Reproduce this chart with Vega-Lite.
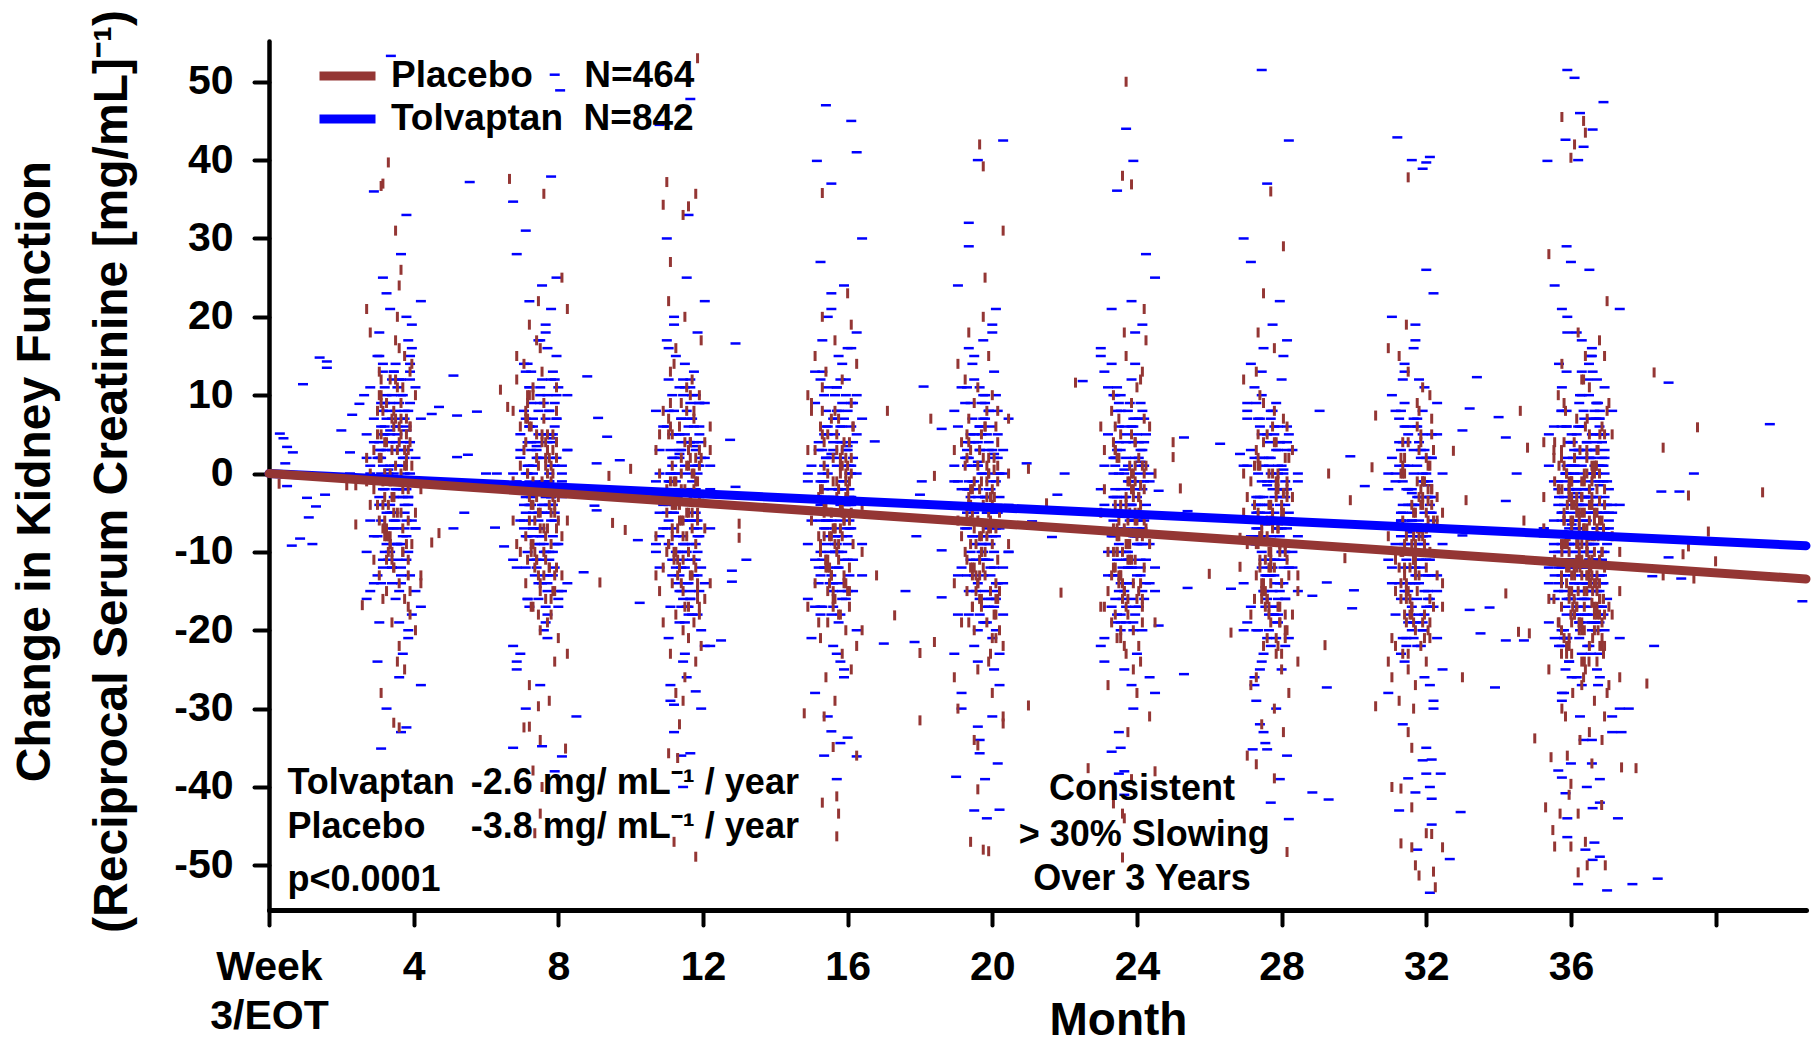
{
  "$schema": "https://vega.github.io/schema/vega-lite/v6.json",
  "width": 1537,
  "height": 869,
  "autosize": {"type": "none"},
  "padding": {"left": 269, "top": 41, "right": 12, "bottom": 137},
  "background": "white",
  "config": {
    "view": {"stroke": null},
    "font": "Liberation Sans",
    "axis": {
      "labelFont": "Liberation Sans", "labelFontWeight": "bold", "labelColor": "#000",
      "titleFont": "Liberation Sans", "titleFontWeight": "bold", "titleColor": "#000",
      "domainColor": "#000", "tickColor": "#000", "grid": false,
      "domainCap": "round", "tickCap": "round"
    }
  },
  "datasets": {
    "tolvaptan": [
      {"m":3.0,"v":2},{"m":3.75,"v":-5},{"m":3.35,"v":9},{"m":3.95,"v":-1},{"m":3.15,"v":14},{"m":3.55,"v":-9},{"m":2.9,"v":4},{"m":3.65,"v":-14},{"m":3.45,"v":0},{"m":3.25,"v":7},{"m":3.85,"v":-3},{"m":3.05,"v":18},{"m":4.05,"v":-7},{"m":2.8,"v":11},{"m":3.6,"v":-19},{"m":3.4,"v":3},{"m":3.8,"v":-11},{"m":3.2,"v":6},{"m":3.5,"v":-2},{"m":4.2,"v":22},{"m":2.7,"v":-16},{"m":3.7,"v":1},{"m":3.1,"v":-6},{"m":3.9,"v":13},
      {"m":3.0,"v":-24},{"m":3.75,"v":8},{"m":3.35,"v":-4},{"m":3.95,"v":16},{"m":3.15,"v":-12},{"m":3.55,"v":5},{"m":2.9,"v":-8},{"m":3.65,"v":28},{"m":3.45,"v":-1},{"m":3.25,"v":10},{"m":3.85,"v":-21},{"m":3.05,"v":3},{"m":4.05,"v":-15},{"m":2.8,"v":0},{"m":3.6,"v":12},{"m":3.4,"v":-5},{"m":3.8,"v":20},{"m":3.2,"v":-10},{"m":3.5,"v":6},{"m":4.2,"v":-27},{"m":2.7,"v":2},{"m":3.7,"v":-3},{"m":3.1,"v":9},{"m":3.9,"v":-13},
      {"m":3.0,"v":15},{"m":3.75,"v":-7},{"m":3.35,"v":4},{"m":3.95,"v":-18},{"m":3.15,"v":25},{"m":3.55,"v":-2},{"m":2.9,"v":7},{"m":3.65,"v":-9},{"m":3.45,"v":1},{"m":3.25,"v":-30},{"m":3.85,"v":17},{"m":3.05,"v":-4},{"m":4.05,"v":11},{"m":2.8,"v":-6},{"m":3.6,"v":3},{"m":3.4,"v":-12},{"m":3.8,"v":33},{"m":3.2,"v":-1},{"m":3.5,"v":8},{"m":4.2,"v":-17},{"m":2.7,"v":5},{"m":3.7,"v":-23},{"m":3.1,"v":0},{"m":3.9,"v":14},
      {"m":3.0,"v":-8},{"m":3.75,"v":2},{"m":3.35,"v":-5},{"m":3.95,"v":19},{"m":3.15,"v":-11},{"m":3.55,"v":6},{"m":2.9,"v":-14},{"m":3.65,"v":10},{"m":3.45,"v":-3},{"m":3.25,"v":23},{"m":3.85,"v":-20},{"m":3.05,"v":4},{"m":4.05,"v":-7},{"m":2.8,"v":1},{"m":3.6,"v":-26},{"m":3.4,"v":12},{"m":3.8,"v":-2},{"m":3.2,"v":9},{"m":3.5,"v":-16},{"m":4.2,"v":7},{"m":2.7,"v":-10},{"m":3.7,"v":3},{"m":3.1,"v":-4},{"m":3.9,"v":15},
      {"m":3.0,"v":-13},{"m":3.75,"v":0},{"m":3.35,"v":21},{"m":3.95,"v":-6},{"m":3.15,"v":5},{"m":3.55,"v":-9},{"m":2.9,"v":36},{"m":3.65,"v":-33},{"m":3.45,"v":13},{"m":3.25,"v":-1},{"m":3.85,"v":8},{"m":3.05,"v":-19},{"m":4.05,"v":2},{"m":2.8,"v":-15},
      {"m":3.15,"v":1},{"m":3.6,"v":-3},{"m":3.35,"v":5},{"m":3.8,"v":-6},{"m":3.25,"v":8},{"m":3.5,"v":-9},{"m":3.7,"v":2},{"m":3.05,"v":-1},{"m":3.55,"v":11},{"m":3.4,"v":-12},{"m":3.75,"v":4},{"m":3.2,"v":-4},{"m":3.65,"v":7},{"m":3.3,"v":-7},{"m":3.9,"v":0},{"m":3.45,"v":13},{"m":3.1,"v":-14},{"m":3.85,"v":3},
      {"m":3.15,"v":-2},{"m":3.6,"v":9},{"m":3.35,"v":-10},{"m":3.8,"v":6},{"m":3.25,"v":-5},{"m":3.5,"v":14},{"m":3.7,"v":-8},{"m":3.05,"v":2},{"m":3.55,"v":-11},{"m":3.4,"v":10},{"m":3.75,"v":-1},{"m":3.2,"v":5},{"m":3.65,"v":-13},{"m":3.3,"v":0},{"m":3.9,"v":12},{"m":3.45,"v":-6},{"m":3.1,"v":3},{"m":3.85,"v":-3},
      {"m":3.15,"v":8},{"m":3.6,"v":-15},{"m":3.35,"v":1},{"m":3.8,"v":5.5},{"m":3.25,"v":-9},{"m":3.5,"v":4},{"m":3.7,"v":-2},{"m":3.05,"v":15},{"m":3.55,"v":-7},{"m":3.4,"v":7},{"m":3.75,"v":-4},{"m":3.2,"v":11},{"m":3.65,"v":-12},{"m":3.3,"v":0.5},{"m":3.9,"v":9},{"m":3.45,"v":-5},{"m":3.1,"v":2},{"m":3.85,"v":-10},
      {"m":3.15,"v":13},{"m":3.6,"v":-1},{"m":3.35,"v":5.5},{"m":3.8,"v":-8},{"m":3.25,"v":3},{"m":3.5,"v":-6},{"m":3.7,"v":10},{"m":3.05,"v":-3},{"m":3.55,"v":1},{"m":3.4,"v":-14},{"m":3.75,"v":7},{"m":3.2,"v":-2},{"m":3.65,"v":12},{"m":3.3,"v":-11},{"m":3.9,"v":4},{"m":3.45,"v":-7},{"m":3.1,"v":6},{"m":3.85,"v":-4},

      {"m":7.05,"v":14},{"m":7.8,"v":-3},{"m":7.4,"v":4},{"m":8.0,"v":-15},{"m":7.2,"v":22},{"m":7.6,"v":-10},{"m":6.95,"v":2},{"m":7.7,"v":-18},{"m":7.5,"v":10},{"m":7.3,"v":-7},{"m":7.9,"v":6},{"m":7.1,"v":-30},{"m":8.1,"v":-1},{"m":6.85,"v":-12},{"m":7.65,"v":19},{"m":7.45,"v":-5},{"m":7.85,"v":13},{"m":7.25,"v":-2},{"m":7.55,"v":-14},{"m":8.25,"v":3},{"m":6.75,"v":-22},{"m":7.75,"v":8},{"m":7.15,"v":-8},{"m":7.95,"v":25},
      {"m":7.05,"v":-4},{"m":7.8,"v":1},{"m":7.4,"v":-11},{"m":8.0,"v":11},{"m":7.2,"v":-17},{"m":7.6,"v":5},{"m":6.95,"v":-6},{"m":7.7,"v":16},{"m":7.5,"v":-27},{"m":7.3,"v":0},{"m":7.9,"v":-9},{"m":7.1,"v":7},{"m":8.1,"v":-3},{"m":6.85,"v":28},{"m":7.65,"v":-19},{"m":7.45,"v":2},{"m":7.85,"v":-13},{"m":7.25,"v":4},{"m":7.55,"v":-5},{"m":8.25,"v":10},{"m":6.75,"v":-35},{"m":7.75,"v":-1},{"m":7.15,"v":-10},{"m":7.95,"v":15},
      {"m":7.05,"v":-7},{"m":7.8,"v":21},{"m":7.4,"v":-2},{"m":8.0,"v":-16},{"m":7.2,"v":6},{"m":7.6,"v":-4},{"m":6.95,"v":3},{"m":7.7,"v":-21},{"m":7.5,"v":9},{"m":7.3,"v":-8},{"m":7.9,"v":12},{"m":7.1,"v":-12},{"m":8.1,"v":1},{"m":6.85,"v":-25},{"m":7.65,"v":18},{"m":7.45,"v":-6},{"m":7.85,"v":5},{"m":7.25,"v":-3},{"m":7.55,"v":24},{"m":8.25,"v":-14},{"m":6.75,"v":0},{"m":7.75,"v":-11},{"m":7.15,"v":14},{"m":7.95,"v":-9},
      {"m":7.05,"v":8},{"m":7.8,"v":-5},{"m":7.4,"v":2},{"m":8.0,"v":-17},{"m":7.2,"v":11},{"m":7.6,"v":-2},{"m":6.95,"v":-23},{"m":7.7,"v":4},{"m":7.5,"v":-7},{"m":7.3,"v":7},{"m":7.9,"v":-38},{"m":7.1,"v":31},{"m":8.1,"v":-15},{"m":6.85,"v":-1},{"m":7.65,"v":-10},{"m":7.45,"v":17},{"m":7.85,"v":-4},{"m":7.25,"v":13},{"m":7.55,"v":-4},{"m":8.25,"v":3},{"m":6.75,"v":-11},{"m":7.75,"v":-1},{"m":7.15,"v":-16},{"m":7.95,"v":7},
      {"m":7.05,"v":-6},{"m":7.8,"v":12},{"m":7.4,"v":-2},{"m":8.0,"v":-9},{"m":7.2,"v":1},{"m":7.6,"v":-20},{"m":6.95,"v":5},{"m":7.7,"v":-13},{"m":7.5,"v":17},{"m":7.3,"v":-5},{"m":7.9,"v":9},{"m":7.1,"v":-8},{"m":8.1,"v":0},{"m":6.85,"v":-24},
      {"m":7.2,"v":-1},{"m":7.65,"v":-5},{"m":7.4,"v":3},{"m":7.85,"v":-8},{"m":7.3,"v":6},{"m":7.55,"v":-11},{"m":7.75,"v":0},{"m":7.1,"v":-3},{"m":7.6,"v":9},{"m":7.45,"v":-14},{"m":7.8,"v":2},{"m":7.25,"v":-6},{"m":7.7,"v":5},{"m":7.35,"v":-9},{"m":7.95,"v":-2},{"m":7.5,"v":11},{"m":7.15,"v":-16},{"m":7.9,"v":1},
      {"m":7.2,"v":-4},{"m":7.65,"v":7},{"m":7.4,"v":-12},{"m":7.85,"v":4},{"m":7.3,"v":-7},{"m":7.55,"v":12},{"m":7.75,"v":-10},{"m":7.1,"v":0},{"m":7.6,"v":-13},{"m":7.45,"v":8},{"m":7.8,"v":-3},{"m":7.25,"v":3},{"m":7.7,"v":-15},{"m":7.35,"v":-2},{"m":7.95,"v":10},{"m":7.5,"v":-8},{"m":7.15,"v":1},{"m":7.9,"v":-5},
      {"m":7.2,"v":6},{"m":7.65,"v":-17},{"m":7.4,"v":-1},{"m":7.85,"v":4.5},{"m":7.3,"v":-11},{"m":7.55,"v":2},{"m":7.75,"v":-4},{"m":7.1,"v":13},{"m":7.6,"v":-9},{"m":7.45,"v":5},{"m":7.8,"v":-6},{"m":7.25,"v":9},{"m":7.7,"v":-14},{"m":7.35,"v":-2.5},{"m":7.95,"v":7},{"m":7.5,"v":-7},{"m":7.15,"v":0},{"m":7.9,"v":-12},
      {"m":7.2,"v":11},{"m":7.65,"v":-3},{"m":7.4,"v":3.5},{"m":7.85,"v":-10},{"m":7.3,"v":1},{"m":7.55,"v":-8},{"m":7.75,"v":8},{"m":7.1,"v":-5},{"m":7.6,"v":-1},{"m":7.45,"v":-16},{"m":7.8,"v":5},{"m":7.25,"v":-4},{"m":7.7,"v":10},{"m":7.35,"v":-13},{"m":7.95,"v":2},{"m":7.5,"v":-9},{"m":7.15,"v":4},{"m":7.9,"v":-6},

      {"m":11.0,"v":17},{"m":11.75,"v":-13},{"m":11.35,"v":3},{"m":11.95,"v":-30},{"m":11.15,"v":-1},{"m":11.55,"v":-6},{"m":10.9,"v":6},{"m":11.65,"v":-16},{"m":11.45,"v":12},{"m":11.25,"v":-10},{"m":11.85,"v":1},{"m":11.05,"v":-21},{"m":12.05,"v":22},{"m":10.8,"v":-5},{"m":11.6,"v":4},{"m":11.4,"v":-12},{"m":11.8,"v":-2},{"m":11.2,"v":-33},{"m":11.5,"v":14},{"m":12.2,"v":-7},{"m":10.7,"v":8},{"m":11.7,"v":-9},{"m":11.1,"v":0},{"m":11.9,"v":-15},
      {"m":11.0,"v":30},{"m":11.75,"v":-4},{"m":11.35,"v":5},{"m":11.95,"v":-20},{"m":11.15,"v":2},{"m":11.55,"v":-26},{"m":10.9,"v":-3},{"m":11.65,"v":11},{"m":11.45,"v":-11},{"m":11.25,"v":-1},{"m":11.85,"v":-8},{"m":11.05,"v":16},{"m":12.05,"v":-14},{"m":10.8,"v":3},{"m":11.6,"v":-17},{"m":11.4,"v":7},{"m":11.8,"v":-6},{"m":11.2,"v":20},{"m":11.5,"v":-23},{"m":12.2,"v":1},{"m":10.7,"v":-10},{"m":11.7,"v":-2},{"m":11.1,"v":-29},{"m":11.9,"v":9},
      {"m":11.0,"v":-5},{"m":11.75,"v":6},{"m":11.35,"v":-19},{"m":11.95,"v":4},{"m":11.15,"v":-13},{"m":11.55,"v":0},{"m":10.9,"v":-7},{"m":11.65,"v":12},{"m":11.45,"v":-16},{"m":11.25,"v":-3},{"m":11.85,"v":18},{"m":11.05,"v":-9},{"m":12.05,"v":2},{"m":10.8,"v":-12},{"m":11.6,"v":33},{"m":11.4,"v":-36},{"m":11.8,"v":10},{"m":11.2,"v":-4},{"m":11.5,"v":5},{"m":12.2,"v":-22},{"m":10.7,"v":-1},{"m":11.7,"v":-18},{"m":11.1,"v":-1},{"m":11.9,"v":-8},
      {"m":11.0,"v":6},{"m":11.75,"v":-4},{"m":11.35,"v":11},{"m":11.95,"v":-12},{"m":11.15,"v":1},{"m":11.55,"v":-17},{"m":10.9,"v":-3},{"m":11.65,"v":4},{"m":11.45,"v":-6},{"m":11.25,"v":15},{"m":11.85,"v":-10},{"m":11.05,"v":8},{"m":12.05,"v":-22},{"m":10.8,"v":0},{"m":11.6,"v":-14},{"m":11.4,"v":3},{"m":11.8,"v":-5},{"m":11.2,"v":19},{"m":11.5,"v":-19},{"m":12.2,"v":-2},{"m":10.7,"v":-9},{"m":11.7,"v":10},{"m":11.1,"v":-27},{"m":11.9,"v":5},
      {"m":11.0,"v":-7},{"m":11.75,"v":13},{"m":11.35,"v":-15},{"m":11.95,"v":2},{"m":11.15,"v":-11},{"m":11.55,"v":25},{"m":10.9,"v":-4},{"m":11.65,"v":7},{"m":11.45,"v":-24},{"m":11.25,"v":0},{"m":11.85,"v":-18},{"m":11.05,"v":-3},{"m":12.05,"v":9},{"m":10.8,"v":-8},
      {"m":11.15,"v":-2},{"m":11.6,"v":-6},{"m":11.35,"v":2},{"m":11.8,"v":-9},{"m":11.25,"v":5},{"m":11.5,"v":-12},{"m":11.7,"v":-1},{"m":11.05,"v":-4},{"m":11.55,"v":8},{"m":11.4,"v":-15},{"m":11.75,"v":1},{"m":11.2,"v":-7},{"m":11.65,"v":4},{"m":11.3,"v":-10},{"m":11.9,"v":-3},{"m":11.45,"v":10},{"m":11.1,"v":-17},{"m":11.85,"v":0},
      {"m":11.15,"v":-5},{"m":11.6,"v":6},{"m":11.35,"v":-13},{"m":11.8,"v":3},{"m":11.25,"v":-8},{"m":11.5,"v":11},{"m":11.7,"v":-11},{"m":11.05,"v":-1},{"m":11.55,"v":-14},{"m":11.4,"v":7},{"m":11.75,"v":-4},{"m":11.2,"v":2},{"m":11.65,"v":-16},{"m":11.3,"v":-3},{"m":11.9,"v":9},{"m":11.45,"v":-9},{"m":11.1,"v":0},{"m":11.85,"v":-6},
      {"m":11.15,"v":5},{"m":11.6,"v":-18},{"m":11.35,"v":-2},{"m":11.8,"v":3.5},{"m":11.25,"v":-12},{"m":11.5,"v":1},{"m":11.7,"v":-5},{"m":11.05,"v":12},{"m":11.55,"v":-10},{"m":11.4,"v":4},{"m":11.75,"v":-7},{"m":11.2,"v":8},{"m":11.65,"v":-15},{"m":11.3,"v":-3.5},{"m":11.9,"v":6},{"m":11.45,"v":-8},{"m":11.1,"v":-1},{"m":11.85,"v":-13},
      {"m":11.15,"v":10},{"m":11.6,"v":-4},{"m":11.35,"v":2.5},{"m":11.8,"v":-11},{"m":11.25,"v":0},{"m":11.5,"v":-9},{"m":11.7,"v":7},{"m":11.05,"v":-6},{"m":11.55,"v":-2},{"m":11.4,"v":-17},{"m":11.75,"v":4},{"m":11.2,"v":-5},{"m":11.65,"v":9},{"m":11.3,"v":-14},{"m":11.9,"v":1},{"m":11.45,"v":-10},{"m":11.1,"v":3},{"m":11.85,"v":-7},

      {"m":15.2,"v":-14},{"m":15.95,"v":3},{"m":15.55,"v":-6},{"m":16.15,"v":9},{"m":15.35,"v":-36},{"m":15.75,"v":-2},{"m":15.1,"v":-11},{"m":15.85,"v":14},{"m":15.65,"v":-8},{"m":15.45,"v":20},{"m":16.05,"v":-3},{"m":15.25,"v":-17},{"m":16.25,"v":5},{"m":15.0,"v":-5},{"m":15.8,"v":2},{"m":15.6,"v":-22},{"m":16.0,"v":8},{"m":15.4,"v":-9},{"m":15.7,"v":11},{"m":16.4,"v":-13},{"m":14.9,"v":0},{"m":15.9,"v":-26},{"m":15.3,"v":17},{"m":16.1,"v":-7},
      {"m":15.2,"v":4},{"m":15.95,"v":-4},{"m":15.55,"v":23},{"m":16.15,"v":-15},{"m":15.35,"v":-1},{"m":15.75,"v":-12},{"m":15.1,"v":13},{"m":15.85,"v":-10},{"m":15.65,"v":7},{"m":15.45,"v":-6},{"m":16.05,"v":1},{"m":15.25,"v":-18},{"m":16.25,"v":10},{"m":15.0,"v":-3},{"m":15.8,"v":-24},{"m":15.6,"v":3},{"m":16.0,"v":-8},{"m":15.4,"v":6},{"m":15.7,"v":-39},{"m":16.4,"v":30},{"m":14.9,"v":-16},{"m":15.9,"v":-2},{"m":15.3,"v":-11},{"m":16.1,"v":16},
      {"m":15.2,"v":-5},{"m":15.95,"v":12},{"m":15.55,"v":-5},{"m":16.15,"v":2},{"m":15.35,"v":-12},{"m":15.75,"v":-2},{"m":15.1,"v":-17},{"m":15.85,"v":6},{"m":15.65,"v":-7},{"m":15.45,"v":11},{"m":16.05,"v":-3},{"m":15.25,"v":-10},{"m":16.25,"v":0},{"m":15.0,"v":-21},{"m":15.8,"v":4},{"m":15.6,"v":-14},{"m":16.0,"v":16},{"m":15.4,"v":-6},{"m":15.7,"v":8},{"m":16.4,"v":-9},{"m":14.9,"v":-1},{"m":15.9,"v":-25},{"m":15.3,"v":13},{"m":16.1,"v":-4},
      {"m":15.2,"v":3},{"m":15.95,"v":-16},{"m":15.55,"v":21},{"m":16.15,"v":-11},{"m":15.35,"v":1},{"m":15.75,"v":-19},{"m":15.1,"v":9},{"m":15.85,"v":-8},{"m":15.65,"v":5},{"m":15.45,"v":-31},{"m":16.05,"v":-2},{"m":15.25,"v":-13},{"m":16.25,"v":18},{"m":15.0,"v":-6},{"m":15.8,"v":12},{"m":15.6,"v":-3},{"m":16.0,"v":-15},{"m":15.4,"v":2},{"m":15.7,"v":-23},{"m":16.4,"v":7},{"m":14.9,"v":-9},{"m":15.9,"v":24},{"m":15.3,"v":-5},{"m":16.1,"v":0},
      {"m":15.2,"v":-12},{"m":15.95,"v":10},{"m":15.55,"v":-18},{"m":16.15,"v":4},{"m":15.35,"v":-7},{"m":15.75,"v":15},{"m":15.1,"v":-28},{"m":15.85,"v":-1},{"m":15.65,"v":-10},{"m":15.45,"v":6},{"m":16.05,"v":-4},{"m":15.25,"v":27},{"m":16.25,"v":-20},{"m":15.0,"v":1},
      {"m":15.35,"v":10},{"m":15.8,"v":-4},{"m":15.55,"v":2},{"m":16.0,"v":-11},{"m":15.45,"v":0},{"m":15.7,"v":-9},{"m":15.9,"v":7},{"m":15.25,"v":-6},{"m":15.75,"v":-2},{"m":15.6,"v":-17},{"m":15.95,"v":4},{"m":15.4,"v":-5},{"m":15.85,"v":9},{"m":15.5,"v":-14},{"m":16.1,"v":1},{"m":15.65,"v":-10},{"m":15.3,"v":3},{"m":16.05,"v":-7},
      {"m":15.35,"v":5},{"m":15.8,"v":-18},{"m":15.55,"v":-2},{"m":16.0,"v":3},{"m":15.45,"v":-12},{"m":15.7,"v":1},{"m":15.9,"v":-5},{"m":15.25,"v":12},{"m":15.75,"v":-10},{"m":15.6,"v":4},{"m":15.95,"v":-7},{"m":15.4,"v":8},{"m":15.85,"v":-15},{"m":15.5,"v":-3},{"m":16.1,"v":6},{"m":15.65,"v":-8},{"m":15.3,"v":-1},{"m":16.05,"v":-13},
      {"m":15.35,"v":-5},{"m":15.8,"v":6},{"m":15.55,"v":-13},{"m":16.0,"v":3.5},{"m":15.45,"v":-8},{"m":15.7,"v":11},{"m":15.9,"v":-11},{"m":15.25,"v":-1},{"m":15.75,"v":-14},{"m":15.6,"v":7},{"m":15.95,"v":-4},{"m":15.4,"v":2},{"m":15.85,"v":-16},{"m":15.5,"v":-3.5},{"m":16.1,"v":9},{"m":15.65,"v":-9},{"m":15.3,"v":0},{"m":16.05,"v":-6},
      {"m":15.35,"v":-2},{"m":15.8,"v":-6},{"m":15.55,"v":2.5},{"m":16.0,"v":-9},{"m":15.45,"v":5},{"m":15.7,"v":-12},{"m":15.9,"v":-1},{"m":15.25,"v":-4},{"m":15.75,"v":8},{"m":15.6,"v":-15},{"m":15.95,"v":1},{"m":15.4,"v":-7},{"m":15.85,"v":4},{"m":15.5,"v":-10},{"m":16.1,"v":-3},{"m":15.65,"v":10},{"m":15.3,"v":-17},{"m":16.05,"v":0},

      {"m":19.25,"v":-7},{"m":20.0,"v":19},{"m":19.6,"v":-24},{"m":20.2,"v":0},{"m":19.4,"v":-11},{"m":19.8,"v":-3},{"m":19.15,"v":-30},{"m":19.9,"v":8},{"m":19.7,"v":-6},{"m":19.5,"v":5},{"m":20.1,"v":-20},{"m":19.3,"v":3},{"m":20.3,"v":-14},{"m":19.05,"v":-1},{"m":19.85,"v":-8},{"m":19.65,"v":11},{"m":20.05,"v":-17},{"m":19.45,"v":-4},{"m":19.75,"v":17},{"m":20.45,"v":-10},{"m":18.95,"v":1},{"m":19.95,"v":-13},{"m":19.35,"v":32},{"m":20.15,"v":-37},
      {"m":19.25,"v":9},{"m":20.0,"v":-5},{"m":19.6,"v":4},{"m":20.2,"v":-23},{"m":19.4,"v":-2},{"m":19.8,"v":-19},{"m":19.15,"v":-2},{"m":19.9,"v":-9},{"m":19.7,"v":5},{"m":19.5,"v":-5},{"m":20.1,"v":10},{"m":19.3,"v":-13},{"m":20.3,"v":0},{"m":19.05,"v":-18},{"m":19.85,"v":-4},{"m":19.65,"v":3},{"m":20.05,"v":-7},{"m":19.45,"v":14},{"m":19.75,"v":-11},{"m":20.45,"v":7},{"m":18.95,"v":-23},{"m":19.95,"v":-1},{"m":19.35,"v":-15},{"m":20.15,"v":2},
      {"m":19.25,"v":-6},{"m":20.0,"v":18},{"m":19.6,"v":-20},{"m":20.2,"v":-3},{"m":19.4,"v":-10},{"m":19.8,"v":9},{"m":19.15,"v":-28},{"m":19.9,"v":4},{"m":19.7,"v":-8},{"m":19.5,"v":12},{"m":20.1,"v":-16},{"m":19.3,"v":1},{"m":20.3,"v":-12},{"m":19.05,"v":24},{"m":19.85,"v":-5},{"m":19.65,"v":6},{"m":20.05,"v":-25},{"m":19.45,"v":-1},{"m":19.75,"v":-19},{"m":20.45,"v":-4},{"m":18.95,"v":8},{"m":19.95,"v":-9},{"m":19.35,"v":16},{"m":20.15,"v":-14},
      {"m":19.25,"v":2},{"m":20.0,"v":-31},{"m":19.6,"v":-2},{"m":20.2,"v":-7},{"m":19.4,"v":5},{"m":19.8,"v":-17},{"m":19.15,"v":11},{"m":19.9,"v":-11},{"m":19.7,"v":0},{"m":19.5,"v":-22},{"m":20.1,"v":21},{"m":19.3,"v":-6},{"m":20.3,"v":3},{"m":19.05,"v":-13},{"m":19.85,"v":-3},{"m":19.65,"v":-34},{"m":20.05,"v":13},{"m":19.45,"v":-8},{"m":19.75,"v":7},{"m":20.45,"v":-10},{"m":18.95,"v":-1},{"m":19.95,"v":-16},{"m":19.35,"v":29},{"m":20.15,"v":-5},
      {"m":19.25,"v":4},{"m":20.0,"v":-21},{"m":19.6,"v":1},{"m":20.2,"v":-27},{"m":19.4,"v":-4},{"m":19.8,"v":10},{"m":19.15,"v":-12},{"m":19.9,"v":-2},{"m":19.7,"v":-9},{"m":19.5,"v":15},{"m":20.1,"v":-15},{"m":19.3,"v":2},{"m":20.3,"v":-18},{"m":19.05,"v":6},
      {"m":19.4,"v":-3},{"m":19.85,"v":-7},{"m":19.6,"v":1},{"m":20.05,"v":-10},{"m":19.5,"v":4},{"m":19.75,"v":-13},{"m":19.95,"v":-2},{"m":19.3,"v":-5},{"m":19.8,"v":7},{"m":19.65,"v":-16},{"m":20.0,"v":0},{"m":19.45,"v":-8},{"m":19.9,"v":3},{"m":19.55,"v":-11},{"m":20.15,"v":-4},{"m":19.7,"v":9},{"m":19.35,"v":-18},{"m":20.1,"v":-1},
      {"m":19.4,"v":-6},{"m":19.85,"v":5},{"m":19.6,"v":-14},{"m":20.05,"v":2},{"m":19.5,"v":-9},{"m":19.75,"v":10},{"m":19.95,"v":-12},{"m":19.3,"v":-2},{"m":19.8,"v":-15},{"m":19.65,"v":6},{"m":20.0,"v":-5},{"m":19.45,"v":1},{"m":19.9,"v":-17},{"m":19.55,"v":-4},{"m":20.15,"v":8},{"m":19.7,"v":-10},{"m":19.35,"v":-1},{"m":20.1,"v":-7},
      {"m":19.4,"v":4},{"m":19.85,"v":-19},{"m":19.6,"v":-3},{"m":20.05,"v":2.5},{"m":19.5,"v":-13},{"m":19.75,"v":0},{"m":19.95,"v":-6},{"m":19.3,"v":11},{"m":19.8,"v":-11},{"m":19.65,"v":3},{"m":20.0,"v":-8},{"m":19.45,"v":7},{"m":19.9,"v":-16},{"m":19.55,"v":-4.5},{"m":20.15,"v":5},{"m":19.7,"v":-9},{"m":19.35,"v":-2},{"m":20.1,"v":-14},
      {"m":19.4,"v":9},{"m":19.85,"v":-5},{"m":19.6,"v":1.5},{"m":20.05,"v":-12},{"m":19.5,"v":-1},{"m":19.75,"v":-10},{"m":19.95,"v":6},{"m":19.3,"v":-7},{"m":19.8,"v":-3},{"m":19.65,"v":-18},{"m":20.0,"v":3},{"m":19.45,"v":-6},{"m":19.9,"v":8},{"m":19.55,"v":-15},{"m":20.15,"v":0},{"m":19.7,"v":-11},{"m":19.35,"v":2},{"m":20.1,"v":-8},

      {"m":23.3,"v":-10},{"m":24.05,"v":4},{"m":23.65,"v":-41},{"m":24.25,"v":28},{"m":23.45,"v":-18},{"m":23.85,"v":-4},{"m":23.2,"v":-13},{"m":23.95,"v":14},{"m":23.75,"v":-7},{"m":23.55,"v":10},{"m":24.15,"v":-7},{"m":23.35,"v":0},{"m":24.35,"v":-14},{"m":23.1,"v":-4},{"m":23.9,"v":-19},{"m":23.7,"v":4},{"m":24.1,"v":-9},{"m":23.5,"v":9},{"m":23.8,"v":-5},{"m":24.5,"v":-12},{"m":23.0,"v":-2},{"m":24.0,"v":-23},{"m":23.4,"v":2},{"m":24.2,"v":-16},
      {"m":23.3,"v":14},{"m":24.05,"v":-8},{"m":23.65,"v":6},{"m":24.25,"v":-11},{"m":23.45,"v":-3},{"m":23.85,"v":-27},{"m":23.2,"v":11},{"m":23.95,"v":-6},{"m":23.75,"v":1},{"m":23.55,"v":-18},{"m":24.15,"v":19},{"m":23.35,"v":-13},{"m":24.35,"v":-1},{"m":23.1,"v":-21},{"m":23.9,"v":7},{"m":23.7,"v":-10},{"m":24.1,"v":3},{"m":23.5,"v":-33},{"m":23.8,"v":-4},{"m":24.5,"v":-15},{"m":23.0,"v":16},{"m":24.0,"v":-8},{"m":23.4,"v":10},{"m":24.2,"v":-5},
      {"m":23.3,"v":-17},{"m":24.05,"v":0},{"m":23.65,"v":-25},{"m":24.25,"v":5},{"m":23.45,"v":-11},{"m":23.85,"v":22},{"m":23.2,"v":-7},{"m":23.95,"v":-2},{"m":23.75,"v":-14},{"m":23.55,"v":8},{"m":24.15,"v":-20},{"m":23.35,"v":2},{"m":24.35,"v":-9},{"m":23.1,"v":13},{"m":23.9,"v":-30},{"m":23.7,"v":-3},{"m":24.1,"v":-12},{"m":23.5,"v":4},{"m":23.8,"v":-6},{"m":24.5,"v":25},{"m":23.0,"v":-22},{"m":24.0,"v":-1},{"m":23.4,"v":-16},{"m":24.2,"v":1},
      {"m":23.3,"v":-8},{"m":24.05,"v":7},{"m":23.65,"v":-38},{"m":24.25,"v":-4},{"m":23.45,"v":-13},{"m":23.85,"v":12},{"m":23.2,"v":-10},{"m":23.95,"v":18},{"m":23.75,"v":-5},{"m":23.55,"v":-19},{"m":24.15,"v":3},{"m":23.35,"v":-7},{"m":24.35,"v":0},{"m":23.1,"v":-24},{"m":23.9,"v":6},{"m":23.7,"v":-11},{"m":24.1,"v":9},{"m":23.5,"v":-15},{"m":23.8,"v":-2},{"m":24.5,"v":-28},{"m":23.0,"v":15},{"m":24.0,"v":-9},{"m":23.4,"v":2},{"m":24.2,"v":-6},
      {"m":23.3,"v":21},{"m":24.05,"v":-17},{"m":23.65,"v":-3},{"m":24.25,"v":-14},{"m":23.45,"v":11},{"m":23.85,"v":-12},{"m":23.2,"v":5},{"m":23.95,"v":-8},{"m":23.75,"v":-1},{"m":23.55,"v":-20},{"m":24.15,"v":8},{"m":23.35,"v":-5},{"m":24.35,"v":-26},{"m":23.1,"v":1},
      {"m":23.45,"v":8},{"m":23.9,"v":-6},{"m":23.65,"v":0},{"m":24.1,"v":-13},{"m":23.55,"v":-2},{"m":23.8,"v":-11},{"m":24.0,"v":5},{"m":23.35,"v":-8},{"m":23.85,"v":-4},{"m":23.7,"v":-19},{"m":24.05,"v":2},{"m":23.5,"v":-7},{"m":23.95,"v":7},{"m":23.6,"v":-16},{"m":24.2,"v":-1},{"m":23.75,"v":-12},{"m":23.4,"v":1},{"m":24.15,"v":-9},
      {"m":23.45,"v":3},{"m":23.9,"v":-20},{"m":23.65,"v":-4},{"m":24.1,"v":1},{"m":23.55,"v":-14},{"m":23.8,"v":-1},{"m":24.0,"v":-7},{"m":23.35,"v":10},{"m":23.85,"v":-12},{"m":23.7,"v":2},{"m":24.05,"v":-9},{"m":23.5,"v":6},{"m":23.95,"v":-17},{"m":23.6,"v":-5},{"m":24.2,"v":4},{"m":23.75,"v":-10},{"m":23.4,"v":-3},{"m":24.15,"v":-15},
      {"m":23.45,"v":-7},{"m":23.9,"v":4},{"m":23.65,"v":-15},{"m":24.1,"v":1.5},{"m":23.55,"v":-10},{"m":23.8,"v":9},{"m":24.0,"v":-13},{"m":23.35,"v":-3},{"m":23.85,"v":-16},{"m":23.7,"v":5},{"m":24.05,"v":-6},{"m":23.5,"v":0},{"m":23.95,"v":-18},{"m":23.6,"v":-5.5},{"m":24.2,"v":7},{"m":23.75,"v":-11},{"m":23.4,"v":-2},{"m":24.15,"v":-8},
      {"m":23.45,"v":-4},{"m":23.9,"v":-8},{"m":23.65,"v":0.5},{"m":24.1,"v":-11},{"m":23.55,"v":3},{"m":23.8,"v":-14},{"m":24.0,"v":-3},{"m":23.35,"v":-6},{"m":23.85,"v":6},{"m":23.7,"v":-17},{"m":24.05,"v":-1},{"m":23.5,"v":-9},{"m":23.95,"v":2},{"m":23.6,"v":-12},{"m":24.2,"v":-5},{"m":23.75,"v":8},{"m":23.4,"v":-19},{"m":24.15,"v":-2},

      {"m":27.25,"v":-9},{"m":28.0,"v":12},{"m":27.6,"v":-13},{"m":28.2,"v":5},{"m":27.4,"v":-25},{"m":27.8,"v":-3},{"m":27.15,"v":-17},{"m":27.9,"v":0},{"m":27.7,"v":-8},{"m":27.5,"v":16},{"m":28.1,"v":-22},{"m":27.3,"v":-5},{"m":28.3,"v":-12},{"m":27.05,"v":7},{"m":27.85,"v":-30},{"m":27.65,"v":2},{"m":28.05,"v":-10},{"m":27.45,"v":10},{"m":27.75,"v":-18},{"m":28.45,"v":-1},{"m":26.95,"v":-14},{"m":27.95,"v":22},{"m":27.35,"v":-7},{"m":28.15,"v":4},
      {"m":27.25,"v":-27},{"m":28.0,"v":-3},{"m":27.6,"v":-21},{"m":28.2,"v":-6},{"m":27.4,"v":6},{"m":27.8,"v":-11},{"m":27.15,"v":14},{"m":27.9,"v":-16},{"m":27.7,"v":0},{"m":27.5,"v":-33},{"m":28.1,"v":-4},{"m":27.3,"v":-9},{"m":28.3,"v":3},{"m":27.05,"v":-19},{"m":27.85,"v":9},{"m":27.65,"v":-13},{"m":28.05,"v":-2},{"m":27.45,"v":-24},{"m":27.75,"v":19},{"m":28.45,"v":-8},{"m":26.95,"v":1},{"m":27.95,"v":-15},{"m":27.35,"v":-5},{"m":28.15,"v":-36},
      {"m":27.25,"v":11},{"m":28.0,"v":-10},{"m":27.6,"v":5},{"m":28.2,"v":-12},{"m":27.4,"v":-3},{"m":27.8,"v":-18},{"m":27.15,"v":27},{"m":27.9,"v":-7},{"m":27.7,"v":2},{"m":27.5,"v":-23},{"m":28.1,"v":-1},{"m":27.3,"v":-29},{"m":28.3,"v":-6},{"m":27.05,"v":8},{"m":27.85,"v":-14},{"m":27.65,"v":-4},{"m":28.05,"v":-11},{"m":27.45,"v":13},{"m":27.75,"v":-17},{"m":28.45,"v":0},{"m":26.95,"v":-20},{"m":27.95,"v":4},{"m":27.35,"v":-9},{"m":28.15,"v":17},
      {"m":27.25,"v":-26},{"m":28.0,"v":-2},{"m":27.6,"v":-13},{"m":28.2,"v":-5},{"m":27.4,"v":-32},{"m":27.8,"v":6},{"m":27.15,"v":-8},{"m":27.9,"v":3},{"m":27.7,"v":-22},{"m":27.5,"v":1},{"m":28.1,"v":-16},{"m":27.3,"v":-3},{"m":28.3,"v":-10},{"m":27.05,"v":9},{"m":27.85,"v":-19},{"m":27.65,"v":-6},{"m":28.05,"v":15},{"m":27.45,"v":-12},{"m":27.75,"v":-1},{"m":28.45,"v":-15},{"m":26.95,"v":30},{"m":27.95,"v":-39},{"m":27.35,"v":7},{"m":28.15,"v":-7},
      {"m":27.25,"v":2},{"m":28.0,"v":-25},{"m":27.6,"v":-4},{"m":28.2,"v":-21},{"m":27.4,"v":-4},{"m":27.8,"v":-11},{"m":27.15,"v":3},{"m":27.9,"v":-7},{"m":27.7,"v":8},{"m":27.5,"v":-15},{"m":28.1,"v":-2},{"m":27.3,"v":-20},{"m":28.3,"v":-6},{"m":27.05,"v":1},
      {"m":27.4,"v":-5},{"m":27.85,"v":-9},{"m":27.6,"v":-1},{"m":28.05,"v":-12},{"m":27.5,"v":2},{"m":27.75,"v":-15},{"m":27.95,"v":-4},{"m":27.3,"v":-7},{"m":27.8,"v":5},{"m":27.65,"v":-18},{"m":28.0,"v":-2},{"m":27.45,"v":-10},{"m":27.9,"v":1},{"m":27.55,"v":-13},{"m":28.15,"v":-6},{"m":27.7,"v":7},{"m":27.35,"v":-20},{"m":28.1,"v":-3},
      {"m":27.4,"v":-8},{"m":27.85,"v":3},{"m":27.6,"v":-16},{"m":28.05,"v":0},{"m":27.5,"v":-11},{"m":27.75,"v":8},{"m":27.95,"v":-14},{"m":27.3,"v":-4},{"m":27.8,"v":-17},{"m":27.65,"v":4},{"m":28.0,"v":-7},{"m":27.45,"v":-1},{"m":27.9,"v":-19},{"m":27.55,"v":-6},{"m":28.15,"v":6},{"m":27.7,"v":-12},{"m":27.35,"v":-3},{"m":28.1,"v":-9},
      {"m":27.4,"v":2},{"m":27.85,"v":-21},{"m":27.6,"v":-5},{"m":28.05,"v":0.5},{"m":27.5,"v":-15},{"m":27.75,"v":-2},{"m":27.95,"v":-8},{"m":27.3,"v":9},{"m":27.8,"v":-13},{"m":27.65,"v":1},{"m":28.0,"v":-10},{"m":27.45,"v":5},{"m":27.9,"v":-18},{"m":27.55,"v":-6.5},{"m":28.15,"v":3},{"m":27.7,"v":-11},{"m":27.35,"v":-4},{"m":28.1,"v":-16},
      {"m":27.4,"v":7},{"m":27.85,"v":-7},{"m":27.6,"v":-1.5},{"m":28.05,"v":-14},{"m":27.5,"v":-3},{"m":27.75,"v":-12},{"m":27.95,"v":4},{"m":27.3,"v":-9},{"m":27.8,"v":-5},{"m":27.65,"v":-20},{"m":28.0,"v":1},{"m":27.45,"v":-8},{"m":27.9,"v":6},{"m":27.55,"v":-17},{"m":28.15,"v":-2},{"m":27.7,"v":-13},{"m":27.35,"v":0},{"m":28.1,"v":-10},

      {"m":31.25,"v":1},{"m":32.0,"v":-35},{"m":31.6,"v":-6},{"m":32.2,"v":-17},{"m":31.4,"v":14},{"m":31.8,"v":-10},{"m":31.15,"v":8},{"m":31.9,"v":-7},{"m":31.7,"v":-19},{"m":31.5,"v":-2},{"m":32.1,"v":-27},{"m":31.3,"v":3},{"m":32.3,"v":-13},{"m":31.05,"v":20},{"m":31.85,"v":-9},{"m":31.65,"v":-4},{"m":32.05,"v":-16},{"m":31.45,"v":6},{"m":31.75,"v":-22},{"m":32.45,"v":0},{"m":30.95,"v":-11},{"m":31.95,"v":11},{"m":31.35,"v":-32},{"m":32.15,"v":-5},
      {"m":31.25,"v":-14},{"m":32.0,"v":2},{"m":31.6,"v":-8},{"m":32.2,"v":23},{"m":31.4,"v":-24},{"m":31.8,"v":-3},{"m":31.15,"v":-18},{"m":31.9,"v":-1},{"m":31.7,"v":-10},{"m":31.5,"v":5},{"m":32.1,"v":-40},{"m":31.3,"v":-6},{"m":32.3,"v":-15},{"m":31.05,"v":10},{"m":31.85,"v":-12},{"m":31.65,"v":16},{"m":32.05,"v":-7},{"m":31.45,"v":-21},{"m":31.75,"v":1},{"m":32.45,"v":-9},{"m":30.95,"v":-2},{"m":31.95,"v":-26},{"m":31.35,"v":4},{"m":32.15,"v":-13},
      {"m":31.25,"v":7},{"m":32.0,"v":-17},{"m":31.6,"v":-4},{"m":32.2,"v":-30},{"m":31.4,"v":13},{"m":31.8,"v":-11},{"m":31.15,"v":0},{"m":31.9,"v":-8},{"m":31.7,"v":19},{"m":31.5,"v":-19},{"m":32.1,"v":-5},{"m":31.3,"v":-16},{"m":32.3,"v":9},{"m":31.05,"v":-14},{"m":31.85,"v":3},{"m":31.65,"v":-10},{"m":32.05,"v":-3},{"m":31.45,"v":-22},{"m":31.75,"v":6},{"m":32.45,"v":-7},{"m":30.95,"v":-28},{"m":31.95,"v":-1},{"m":31.35,"v":-12},{"m":32.15,"v":2},
      {"m":31.25,"v":-43},{"m":32.0,"v":26},{"m":31.6,"v":-20},{"m":32.2,"v":-6},{"m":31.4,"v":-15},{"m":31.8,"v":12},{"m":31.15,"v":-9},{"m":31.9,"v":8},{"m":31.7,"v":-9},{"m":31.5,"v":-2},{"m":32.1,"v":-16},{"m":31.3,"v":-6},{"m":32.3,"v":-21},{"m":31.05,"v":2},{"m":31.85,"v":-11},{"m":31.65,"v":7},{"m":32.05,"v":-7},{"m":31.45,"v":-14},{"m":31.75,"v":-4},{"m":32.45,"v":-25},{"m":30.95,"v":0},{"m":31.95,"v":-18},{"m":31.35,"v":12},{"m":32.15,"v":-10},
      {"m":31.25,"v":4},{"m":32.0,"v":-13},{"m":31.6,"v":-5},{"m":32.2,"v":-29},{"m":31.4,"v":9},{"m":31.8,"v":-8},{"m":31.15,"v":-1},{"m":31.9,"v":-20},{"m":31.7,"v":17},{"m":31.5,"v":-15},{"m":32.1,"v":-3},{"m":31.3,"v":-23},{"m":32.3,"v":5},{"m":31.05,"v":-12},
      {"m":31.4,"v":6},{"m":31.85,"v":-8},{"m":31.6,"v":-2},{"m":32.05,"v":-15},{"m":31.5,"v":-4},{"m":31.75,"v":-13},{"m":31.95,"v":3},{"m":31.3,"v":-10},{"m":31.8,"v":-6},{"m":31.65,"v":-21},{"m":32.0,"v":0},{"m":31.45,"v":-9},{"m":31.9,"v":5},{"m":31.55,"v":-18},{"m":32.15,"v":-3},{"m":31.7,"v":-14},{"m":31.35,"v":-1},{"m":32.1,"v":-11},
      {"m":31.4,"v":1},{"m":31.85,"v":-22},{"m":31.6,"v":-6},{"m":32.05,"v":-1},{"m":31.5,"v":-16},{"m":31.75,"v":-3},{"m":31.95,"v":-9},{"m":31.3,"v":8},{"m":31.8,"v":-14},{"m":31.65,"v":0},{"m":32.0,"v":-11},{"m":31.45,"v":4},{"m":31.9,"v":-19},{"m":31.55,"v":-7},{"m":32.15,"v":2},{"m":31.7,"v":-12},{"m":31.35,"v":-5},{"m":32.1,"v":-17},
      {"m":31.4,"v":-9},{"m":31.85,"v":2},{"m":31.6,"v":-17},{"m":32.05,"v":-1.5},{"m":31.5,"v":-12},{"m":31.75,"v":7},{"m":31.95,"v":-15},{"m":31.3,"v":-5},{"m":31.8,"v":-18},{"m":31.65,"v":3},{"m":32.0,"v":-8},{"m":31.45,"v":-2},{"m":31.9,"v":-20},{"m":31.55,"v":-7.5},{"m":32.15,"v":5},{"m":31.7,"v":-13},{"m":31.35,"v":-4},{"m":32.1,"v":-10},
      {"m":31.4,"v":-6},{"m":31.85,"v":-10},{"m":31.6,"v":-2.5},{"m":32.05,"v":-13},{"m":31.5,"v":1},{"m":31.75,"v":-16},{"m":31.95,"v":-5},{"m":31.3,"v":-8},{"m":31.8,"v":4},{"m":31.65,"v":-19},{"m":32.0,"v":-3},{"m":31.45,"v":-11},{"m":31.9,"v":0},{"m":31.55,"v":-14},{"m":32.15,"v":-7},{"m":31.7,"v":6},{"m":31.35,"v":-21},{"m":32.1,"v":-4},

      {"m":35.67,"v":-3},{"m":36.72,"v":-25},{"m":36.16,"v":18},{"m":37.0,"v":-9},{"m":35.88,"v":0},{"m":36.44,"v":-16},{"m":35.53,"v":-6},{"m":36.58,"v":-37},{"m":36.3,"v":10},{"m":36.02,"v":-11},{"m":36.86,"v":4},{"m":35.74,"v":-13},{"m":37.14,"v":-4},{"m":35.39,"v":-19},{"m":36.51,"v":26},{"m":36.23,"v":-8},{"m":36.79,"v":1},{"m":35.95,"v":-24},{"m":36.37,"v":-2},{"m":37.35,"v":-30},{"m":35.25,"v":-7},{"m":36.65,"v":7},{"m":35.81,"v":-15},{"m":36.93,"v":-5},
      {"m":35.67,"v":-12},{"m":36.72,"v":12},{"m":36.16,"v":-18},{"m":37.0,"v":-1},{"m":35.88,"v":-21},{"m":36.44,"v":3},{"m":35.53,"v":-10},{"m":36.58,"v":16},{"m":36.3,"v":-27},{"m":36.02,"v":-3},{"m":36.86,"v":-14},{"m":35.74,"v":-6},{"m":37.14,"v":-33},{"m":35.39,"v":5},{"m":36.51,"v":-9},{"m":36.23,"v":2},{"m":36.79,"v":-23},{"m":35.95,"v":0},{"m":36.37,"v":-17},{"m":37.35,"v":-4},{"m":35.25,"v":-11},{"m":36.65,"v":8},{"m":35.81,"v":-20},{"m":36.93,"v":-7},
      {"m":35.67,"v":14},{"m":36.72,"v":-13},{"m":36.16,"v":-2},{"m":37.0,"v":-16},{"m":35.88,"v":29},{"m":36.44,"v":-40},{"m":35.53,"v":6},{"m":36.58,"v":-8},{"m":36.3,"v":1},{"m":36.02,"v":-26},{"m":36.86,"v":-5},{"m":35.74,"v":-22},{"m":37.14,"v":-5},{"m":35.39,"v":-12},{"m":36.51,"v":2},{"m":36.23,"v":-8},{"m":36.79,"v":7},{"m":35.95,"v":-16},{"m":36.37,"v":-3},{"m":37.35,"v":-21},{"m":35.25,"v":-7},{"m":36.65,"v":0},{"m":35.81,"v":-10},{"m":36.93,"v":11},
      {"m":35.67,"v":-14},{"m":36.72,"v":4},{"m":36.16,"v":-26},{"m":37.0,"v":-4},{"m":35.88,"v":-18},{"m":36.44,"v":-1},{"m":35.53,"v":-9},{"m":36.58,"v":15},{"m":36.3,"v":-23},{"m":36.02,"v":-6},{"m":36.86,"v":-13},{"m":35.74,"v":6},{"m":37.14,"v":-31},{"m":35.39,"v":1},{"m":36.51,"v":-11},{"m":36.23,"v":9},{"m":36.79,"v":-19},{"m":35.95,"v":-2},{"m":36.37,"v":-15},{"m":37.35,"v":21},{"m":35.25,"v":-8},{"m":36.65,"v":3},{"m":35.81,"v":-28},{"m":36.93,"v":-4},
      {"m":35.67,"v":-22},{"m":36.72,"v":-7},{"m":36.16,"v":5},{"m":37.0,"v":-12},{"m":35.88,"v":13},{"m":36.44,"v":-17},{"m":35.53,"v":-1},{"m":36.58,"v":-34},{"m":36.3,"v":-5},{"m":36.02,"v":-10},{"m":36.86,"v":2},{"m":35.74,"v":-20},{"m":37.14,"v":8},{"m":35.39,"v":-14},
      {"m":35.85,"v":-25},{"m":36.6,"v":5},{"m":36.2,"v":-12},{"m":36.8,"v":8},{"m":36.0,"v":-16},{"m":36.4,"v":-3},{"m":35.75,"v":-29},{"m":36.5,"v":14},{"m":36.3,"v":-10},{"m":36.1,"v":1},{"m":36.7,"v":-7},{"m":35.9,"v":20},{"m":36.9,"v":-18},{"m":35.65,"v":-4},{"m":36.45,"v":-15},{"m":36.25,"v":10},{"m":36.65,"v":-13},{"m":36.05,"v":4},{"m":36.35,"v":-9},{"m":37.05,"v":-2},{"m":35.55,"v":-21},{"m":36.55,"v":7},{"m":35.95,"v":-6},{"m":36.75,"v":-27},
      {"m":35.85,"v":0},{"m":36.6,"v":-11},{"m":36.2,"v":3},{"m":36.8,"v":-42},{"m":36.0,"v":27},{"m":36.4,"v":-19},{"m":35.75,"v":-5},{"m":36.5,"v":-14},{"m":36.3,"v":13},{"m":36.1,"v":-8},{"m":36.7,"v":9},{"m":35.9,"v":-8},{"m":36.9,"v":-1},{"m":35.65,"v":-15},{"m":36.45,"v":-5},{"m":36.25,"v":-20},{"m":36.65,"v":3},{"m":36.05,"v":-10},{"m":36.35,"v":8},{"m":37.05,"v":-6},{"m":35.55,"v":-13},{"m":36.55,"v":-3},{"m":35.95,"v":-24},{"m":36.75,"v":1},
      {"m":35.85,"v":-17},{"m":36.6,"v":13},{"m":36.2,"v":-9},{"m":36.8,"v":5},{"m":36.0,"v":-12},{"m":36.4,"v":-4},{"m":35.75,"v":-28},{"m":36.5,"v":10},{"m":36.3,"v":-7},{"m":36.1,"v":0},{"m":36.7,"v":-19},{"m":35.9,"v":18},{"m":36.9,"v":-14},{"m":35.65,"v":-2},{"m":36.45,"v":-22},{"m":36.25,"v":6},{"m":36.65,"v":-11},{"m":36.05,"v":2},{"m":36.35,"v":-34},{"m":37.05,"v":-5},{"m":35.55,"v":-16},{"m":36.55,"v":15},{"m":35.95,"v":-9},{"m":36.75,"v":9},
      {"m":35.85,"v":-6},{"m":36.6,"v":-18},{"m":36.2,"v":-1},{"m":36.8,"v":-26},{"m":36.0,"v":4},{"m":36.4,"v":-12},{"m":35.75,"v":21},{"m":36.5,"v":-8},{"m":36.3,"v":-3},{"m":36.1,"v":-15},{"m":36.7,"v":7},{"m":35.9,"v":-21},{"m":36.9,"v":1},{"m":35.65,"v":-10},{"m":36.45,"v":12},{"m":36.25,"v":-31},{"m":36.65,"v":-4},{"m":36.05,"v":-13},{"m":36.35,"v":3},{"m":37.05,"v":-7},{"m":35.55,"v":24},{"m":36.55,"v":-23},{"m":35.95,"v":-2},{"m":36.75,"v":-17},
      {"m":35.85,"v":0},{"m":36.6,"v":-9},{"m":36.2,"v":6},{"m":36.8,"v":-39},{"m":36.0,"v":-5},{"m":36.4,"v":-14},{"m":35.75,"v":11},{"m":36.5,"v":-11},{"m":36.3,"v":17},{"m":36.1,"v":-6},{"m":36.7,"v":-20},{"m":35.9,"v":2},{"m":36.9,"v":-8},{"m":35.65,"v":-1},
      {"m":35.88,"v":-6},{"m":36.51,"v":-10},{"m":36.16,"v":-2},{"m":36.79,"v":-13},{"m":36.02,"v":1},{"m":36.37,"v":-16},{"m":36.65,"v":-5},{"m":35.74,"v":-8},{"m":36.44,"v":4},{"m":36.23,"v":-19},{"m":36.72,"v":-3},{"m":35.95,"v":-11},{"m":36.58,"v":0},{"m":36.09,"v":-14},{"m":36.93,"v":-7},{"m":36.3,"v":6},{"m":35.81,"v":-21},{"m":36.86,"v":-4},
      {"m":35.88,"v":-9},{"m":36.51,"v":2},{"m":36.16,"v":-17},{"m":36.79,"v":-1},{"m":36.02,"v":-12},{"m":36.37,"v":7},{"m":36.65,"v":-15},{"m":35.74,"v":-5},{"m":36.44,"v":-18},{"m":36.23,"v":3},{"m":36.72,"v":-8},{"m":35.95,"v":-2},{"m":36.58,"v":-20},{"m":36.09,"v":-7},{"m":36.93,"v":5},{"m":36.3,"v":-13},{"m":35.81,"v":-4},{"m":36.86,"v":-10},
      {"m":35.88,"v":1},{"m":36.51,"v":-22},{"m":36.16,"v":-6},{"m":36.79,"v":-1.5},{"m":36.02,"v":-16},{"m":36.37,"v":-3},{"m":36.65,"v":-9},{"m":35.74,"v":8},{"m":36.44,"v":-14},{"m":36.23,"v":0},{"m":36.72,"v":-11},{"m":35.95,"v":4},{"m":36.58,"v":-19},{"m":36.09,"v":-7.5},{"m":36.93,"v":2},{"m":36.3,"v":-12},{"m":35.81,"v":-5},{"m":36.86,"v":-17},
      {"m":35.88,"v":6},{"m":36.51,"v":-8},{"m":36.16,"v":-2.5},{"m":36.79,"v":-15},{"m":36.02,"v":-4},{"m":36.37,"v":-13},{"m":36.65,"v":3},{"m":35.74,"v":-10},{"m":36.44,"v":-6},{"m":36.23,"v":-21},{"m":36.72,"v":0},{"m":35.95,"v":-9},{"m":36.58,"v":5},{"m":36.09,"v":-18},{"m":36.93,"v":-3},{"m":36.3,"v":-14},{"m":35.81,"v":-1},{"m":36.86,"v":-11},
      {"m":36.23,"v":-7},{"m":36.72,"v":-3},{"m":35.95,"v":-11},{"m":36.58,"v":0},{"m":36.09,"v":-14},{"m":36.93,"v":3},{"m":36.3,"v":-8},{"m":35.81,"v":-5},{"m":36.86,"v":-17},{"m":35.88,"v":6},{"m":36.51,"v":-10},{"m":36.16,"v":-2},{"m":36.79,"v":-13},{"m":36.02,"v":1},{"m":36.37,"v":-6},{"m":36.65,"v":-19},{"m":35.74,"v":8},{"m":36.44,"v":-9},
      {"m":36.23,"v":-4},{"m":36.72,"v":-15},{"m":35.95,"v":4},{"m":36.58,"v":-12},{"m":36.09,"v":-1},{"m":36.93,"v":-20},{"m":36.3,"v":2},{"m":35.81,"v":-8},{"m":36.86,"v":5},{"m":35.88,"v":-16},{"m":36.51,"v":-5},{"m":36.16,"v":-11},{"m":36.79,"v":7},{"m":36.02,"v":-6},{"m":36.37,"v":-18},{"m":36.65,"v":0},{"m":35.74,"v":-9},{"m":36.44,"v":-3},
      {"m":36.23,"v":-14},{"m":36.72,"v":9},{"m":35.95,"v":-7},{"m":36.58,"v":-12},{"m":36.09,"v":3},{"m":36.93,"v":-10},{"m":36.3,"v":-4},{"m":35.81,"v":-21},{"m":36.86,"v":1},{"m":35.88,"v":-13},{"m":36.51,"v":-2},{"m":36.16,"v":-17},{"m":36.79,"v":6},{"m":36.02,"v":-6.5},{"m":36.37,"v":-15},{"m":36.65,"v":-1},{"m":35.74,"v":-8},{"m":36.44,"v":4},
      {"m":36.23,"v":-19},{"m":36.72,"v":-5},{"m":35.95,"v":-11},{"m":36.58,"v":2},{"m":36.09,"v":-9},{"m":36.93,"v":0},{"m":36.3,"v":-16},{"m":35.81,"v":-3},{"m":36.86,"v":-7},{"m":35.88,"v":8},{"m":36.51,"v":-13},{"m":36.16,"v":-4},{"m":36.79,"v":-18},{"m":36.02,"v":5},{"m":36.37,"v":-10},{"m":36.65,"v":1},{"m":35.74,"v":-12},{"m":36.44,"v":-2},

      {"m":0.3,"v":5.1},{"m":0.4,"v":4.5},{"m":0.5,"v":3.4},{"m":0.66,"v":2.7},{"m":0.45,"v":1.3},{"m":0.5,"v":-1.6},{"m":1.05,"v":-3.1},{"m":1.3,"v":-4.2},{"m":1.1,"v":-5.6},{"m":0.86,"v":-8.3},
      {"m":0.63,"v":-9.2},{"m":1.2,"v":-9},{"m":1.55,"v":-2.7},{"m":1.4,"v":14.8},{"m":1.6,"v":14.3},{"m":1.6,"v":13.5},{"m":0.94,"v":11.4},{"m":2.0,"v":5.5},{"m":2.24,"v":2.7},{"m":2.63,"v":10},
      {"m":2.5,"v":8.9},{"m":2.3,"v":7.5},{"m":2.24,"v":0},
      {"m":5.1,"v":12.5},{"m":5.2,"v":7.4},{"m":5.5,"v":2.4},{"m":5.2,"v":2.1},{"m":5.75,"v":7.9},{"m":5.4,"v":-5},{"m":5.1,"v":-7},{"m":6.25,"v":-6.9},{"m":6.5,"v":-9.3},{"m":6.0,"v":0},
      {"m":6.3,"v":0},{"m":4.7,"v":8.5},{"m":4.5,"v":7.6},
      {"m":9.1,"v":7.1},{"m":9.35,"v":4.7},{"m":9.7,"v":1.7},{"m":9.06,"v":1.3},{"m":9.0,"v":-4.1},{"m":9.06,"v":-4.7},{"m":8.7,"v":-12.6},{"m":8.8,"v":12.4},{"m":10.25,"v":-16.5},{"m":10.2,"v":-8.5},
      {"m":12.9,"v":16.6},{"m":12.75,"v":4.3},{"m":12.9,"v":-1.7},{"m":13.2,"v":-11},{"m":12.8,"v":-12.4},{"m":12.8,"v":-13.8},{"m":12.5,"v":-21.3},
      {"m":18.05,"v":-1},{"m":18.0,"v":-2.7},{"m":17.9,"v":-8},{"m":17.6,"v":-15},{"m":17.0,"v":-21.7},{"m":16.75,"v":4.1},{"m":16.8,"v":-3.3},{"m":17.85,"v":-21.5},{"m":18.6,"v":-9.8},{"m":18.6,"v":-15.8},
      {"m":18.6,"v":5.7},{"m":18.1,"v":11.1},
      {"m":20.95,"v":1.3},{"m":22.0,"v":0},{"m":21.65,"v":-8.1},{"m":21.1,"v":-6.1},{"m":21.8,"v":-2.7},{"m":22.5,"v":11.8},
      {"m":25.3,"v":4.6},{"m":25.4,"v":-4.8},{"m":25.4,"v":-14.6},{"m":26.6,"v":-14.7},{"m":26.3,"v":3.8},{"m":26.85,"v":2.5},{"m":24.6,"v":-2.2},{"m":24.6,"v":-19.4},{"m":25.3,"v":-25.6},
      {"m":29.9,"v":2.2},{"m":30.3,"v":-1.6},{"m":30.0,"v":-14.9},{"m":29.95,"v":-17.2},{"m":29.25,"v":-13.9},{"m":29.25,"v":-27.3},{"m":28.85,"v":-15.6},{"m":29.05,"v":8},
      {"m":33.0,"v":5.5},{"m":33.2,"v":8.3},{"m":33.4,"v":12.3},{"m":34.0,"v":7.2},{"m":34.2,"v":4.6},{"m":34.5,"v":0},{"m":34.2,"v":-3.5},{"m":33.0,"v":-7.9},{"m":33.5,"v":-20.4},{"m":33.75,"v":-17.1},
      {"m":33.2,"v":-17.4},{"m":34.2,"v":-21.3},{"m":34.7,"v":-21.3},{"m":33.9,"v":-27.3},
      {"m":41.5,"v":6.3},{"m":42.4,"v":-16.3},{"m":39.4,"v":0},{"m":38.7,"v":-10.7},{"m":39.05,"v":-13.4},{"m":38.25,"v":-13.1},{"m":38.5,"v":-2.3},{"m":39.0,"v":-2.3},{"m":38.7,"v":11.6},{"m":38.3,"v":-22},
      {"m":3.37,"v":53.3},{"m":7.9,"v":50.9},{"m":8.05,"v":48.9},{"m":11.65,"v":47.8},{"m":10.8,"v":44.5},{"m":15.4,"v":47},{"m":16.1,"v":45},{"m":16.25,"v":41},{"m":15.15,"v":39.9},{"m":20.3,"v":42.5},{"m":5.55,"v":37.2},{"m":6.75,"v":34.7},
      {"m":7.8,"v":37.9},{"m":23.7,"v":44},{"m":23.9,"v":39.9},{"m":23.45,"v":36.1},{"m":27.45,"v":51.5},{"m":28.2,"v":42.5},{"m":31.2,"v":42.9},{"m":32.1,"v":40.4},{"m":32.0,"v":39.7},{"m":31.9,"v":38.9},{"m":35.9,"v":51.5},{"m":36.1,"v":50.5},
      {"m":36.9,"v":47.4},{"m":36.25,"v":46},{"m":36.6,"v":43.9},{"m":35.85,"v":42.6},{"m":36.35,"v":41.7},{"m":35.35,"v":39.9},{"m":19.6,"v":40},{"m":31.6,"v":40},{"m":36.2,"v":40},{"m":15.55,"v":37},{"m":27.6,"v":37},
      {"m":3.1,"v":-35.1},{"m":3.8,"v":-32.4},{"m":7.55,"v":-34.8},{"m":8.1,"v":-36.1},{"m":8.5,"v":-31},{"m":11.65,"v":-35.7},{"m":11.2,"v":-29.5},{"m":11.8,"v":-27.8},{"m":16.25,"v":-36.1},{"m":15.8,"v":-34.4},
      {"m":16.0,"v":-33.7},{"m":15.55,"v":-32.9},{"m":19.0,"v":-38.7},{"m":19.8,"v":-39},{"m":20.2,"v":-42.9},{"m":19.85,"v":-44},{"m":19.65,"v":-35.7},{"m":19.6,"v":-32.3},{"m":11.45,"v":-40},{"m":19.5,"v":-43},{"m":23.55,"v":-35},
      {"m":23.3,"v":-35.5},{"m":23.5,"v":-38.3},{"m":28.85,"v":-40.7},{"m":29.3,"v":-41.6},{"m":28.2,"v":-44.1},{"m":27.6,"v":-35.2},{"m":27.2,"v":-35.2},{"m":27.55,"v":-34.4},{"m":27.7,"v":-42},{"m":32.15,"v":-36.5},{"m":31.9,"v":-36.6},
      {"m":32.0,"v":-38.3},{"m":32.4,"v":-38.3},{"m":31.5,"v":-38.9},{"m":31.7,"v":-40.7},{"m":32.15,"v":-41.5},{"m":32.95,"v":-43.2},{"m":32.15,"v":-44.8},{"m":32.65,"v":-49.2},{"m":32.1,"v":-53.5},{"m":31.75,"v":-48},{"m":36.0,"v":-37},
      {"m":35.65,"v":-37.9},{"m":35.75,"v":-38.8},{"m":35.85,"v":-40.8},{"m":36.6,"v":-42.7},{"m":37.3,"v":-44},{"m":35.9,"v":-46.4},{"m":36.65,"v":-47.1},{"m":36.8,"v":-48.9},{"m":36.6,"v":-49.3},{"m":36.2,"v":-52.4},
      {"m":37.0,"v":-53.2},{"m":37.7,"v":-52.4},{"m":38.4,"v":-51.7},{"m":37.4,"v":-33},{"m":36.4,"v":-48},{"m":35.9,"v":-44},{"m":37.6,"v":-30}
    ],
    "placebo": [
      {"m":3.65,"v":-1},{"m":3.45,"v":6},{"m":3.25,"v":-8},{"m":3.85,"v":3},{"m":3.05,"v":-13},{"m":4.05,"v":10},{"m":2.8,"v":-4},{"m":3.6,"v":16},{"m":3.4,"v":-19},{"m":3.8,"v":1},{"m":3.2,"v":-6},{"m":3.5,"v":12},{"m":4.2,"v":-2},{"m":2.7,"v":21},{"m":3.7,"v":-10},{"m":3.1,"v":5},{"m":3.9,"v":-15},{"m":3.0,"v":8},{"m":3.75,"v":-25},{"m":3.35,"v":0},{"m":3.95,"v":14},{"m":3.15,"v":-7},{"m":3.55,"v":3},{"m":2.9,"v":-11},
      {"m":3.65,"v":26},{"m":3.45,"v":-3},{"m":3.25,"v":9},{"m":3.85,"v":-17},{"m":3.05,"v":2},{"m":4.05,"v":-5},{"m":2.8,"v":18},{"m":3.6,"v":-22},{"m":3.4,"v":7},{"m":3.8,"v":-9},{"m":3.2,"v":4},{"m":3.5,"v":31},{"m":4.2,"v":-13},{"m":2.7,"v":-1},{"m":3.7,"v":11},{"m":3.1,"v":-28},{"m":3.9,"v":6},{"m":3.0,"v":-4},{"m":3.75,"v":15},{"m":3.35,"v":-8},{"m":3.95,"v":1},{"m":3.15,"v":-16},{"m":3.55,"v":20},{"m":2.9,"v":-2},
      {"m":3.65,"v":9},{"m":3.45,"v":-12},{"m":3.25,"v":4},{"m":3.85,"v":-6},{"m":3.05,"v":13},{"m":4.05,"v":-20},{"m":2.8,"v":0},{"m":3.6,"v":24},{"m":3.4,"v":-10},{"m":3.8,"v":7},{"m":3.2,"v":-3},{"m":3.5,"v":17},{"m":4.2,"v":-14},{"m":2.7,"v":2},{"m":3.7,"v":-7},{"m":3.1,"v":10},{"m":3.9,"v":-18},{"m":3.0,"v":5},{"m":3.75,"v":-1},{"m":3.35,"v":12},{"m":3.95,"v":-9},{"m":3.15,"v":37},{"m":3.55,"v":-24},{"m":2.9,"v":3},
      {"m":3.65,"v":-5},{"m":3.45,"v":8},{"m":3.25,"v":-11},
      {"m":3.4,"v":-3},{"m":3.75,"v":3},{"m":3.2,"v":-7},{"m":3.65,"v":0},{"m":3.3,"v":-10},{"m":3.9,"v":6},{"m":3.45,"v":-5},{"m":3.1,"v":9},{"m":3.85,"v":-13},{"m":3.15,"v":-1},{"m":3.6,"v":4},{"m":3.35,"v":-9},{"m":3.8,"v":2},{"m":3.25,"v":-15},{"m":3.5,"v":7},{"m":3.7,"v":-2},{"m":3.05,"v":-6},{"m":3.55,"v":11},
      {"m":3.4,"v":-11},{"m":3.75,"v":1},{"m":3.2,"v":-8},{"m":3.65,"v":5},{"m":3.3,"v":-4},{"m":3.9,"v":13},{"m":3.45,"v":-12},{"m":3.1,"v":2},{"m":3.85,"v":-2},{"m":3.15,"v":8},{"m":3.6,"v":-14},{"m":3.35,"v":-1},{"m":3.8,"v":5},{"m":3.25,"v":-7},{"m":3.5,"v":1},{"m":3.7,"v":-10},{"m":3.05,"v":10},{"m":3.55,"v":-5},
      {"m":3.4,"v":3},{"m":3.75,"v":-16},{"m":3.2,"v":0},{"m":3.65,"v":7},{"m":3.3,"v":-8},{"m":3.9,"v":4},{"m":3.45,"v":-3},{"m":3.1,"v":12},{"m":3.85,"v":-11},{"m":3.15,"v":-4},{"m":3.6,"v":6},{"m":3.35,"v":-9},

      {"m":7.7,"v":3},{"m":7.5,"v":-15},{"m":7.3,"v":-1},{"m":7.9,"v":-24},{"m":7.1,"v":7},{"m":8.1,"v":-8},{"m":6.85,"v":12},{"m":7.65,"v":-11},{"m":7.45,"v":22},{"m":7.85,"v":-3},{"m":7.25,"v":-17},{"m":7.55,"v":4},{"m":8.25,"v":-6},{"m":6.75,"v":8},{"m":7.75,"v":-29},{"m":7.15,"v":0},{"m":7.95,"v":-12},{"m":7.05,"v":14},{"m":7.8,"v":-5},{"m":7.4,"v":2},{"m":8.0,"v":-21},{"m":7.2,"v":19},{"m":7.6,"v":-10},{"m":6.95,"v":6},
      {"m":7.7,"v":-7},{"m":7.5,"v":-34},{"m":7.3,"v":10},{"m":7.9,"v":-2},{"m":7.1,"v":-14},{"m":8.1,"v":25},{"m":6.85,"v":-9},{"m":7.65,"v":1},{"m":7.45,"v":-18},{"m":7.85,"v":5},{"m":7.25,"v":-4},{"m":7.55,"v":13},{"m":8.25,"v":-23},{"m":6.75,"v":-1},{"m":7.75,"v":-12},{"m":7.15,"v":9},{"m":7.95,"v":-7},{"m":7.05,"v":3},{"m":7.8,"v":-16},{"m":7.4,"v":17},{"m":8.0,"v":-3},{"m":7.2,"v":-27},{"m":7.6,"v":7},{"m":6.95,"v":-10},
      {"m":7.7,"v":0},{"m":7.5,"v":-20},{"m":7.3,"v":11},{"m":7.9,"v":-5},{"m":7.1,"v":4},{"m":8.1,"v":-13},{"m":6.85,"v":15},{"m":7.65,"v":-8},{"m":7.45,"v":-2},{"m":7.85,"v":-15},{"m":7.25,"v":6},{"m":7.55,"v":-40},{"m":8.25,"v":21},{"m":6.75,"v":-6},{"m":7.75,"v":2},{"m":7.15,"v":-11},{"m":7.95,"v":8},{"m":7.05,"v":-2},{"m":7.8,"v":-9},{"m":7.4,"v":5},{"m":8.0,"v":-6},{"m":7.2,"v":10},{"m":7.6,"v":-13},{"m":6.95,"v":1},
      {"m":7.7,"v":-19},{"m":7.5,"v":16},{"m":7.3,"v":-4},
      {"m":7.45,"v":-5},{"m":7.8,"v":1},{"m":7.25,"v":-9},{"m":7.7,"v":-2},{"m":7.35,"v":-12},{"m":7.95,"v":4},{"m":7.5,"v":-7},{"m":7.15,"v":7},{"m":7.9,"v":-15},{"m":7.2,"v":-3},{"m":7.65,"v":2},{"m":7.4,"v":-11},{"m":7.85,"v":0},{"m":7.3,"v":-17},{"m":7.55,"v":5},{"m":7.75,"v":-4},{"m":7.1,"v":-8},{"m":7.6,"v":9},
      {"m":7.45,"v":-13},{"m":7.8,"v":-1},{"m":7.25,"v":-10},{"m":7.7,"v":3},{"m":7.35,"v":-6},{"m":7.95,"v":11},{"m":7.5,"v":-14},{"m":7.15,"v":0},{"m":7.9,"v":-4},{"m":7.2,"v":6},{"m":7.65,"v":-16},{"m":7.4,"v":-3},{"m":7.85,"v":3},{"m":7.3,"v":-9},{"m":7.55,"v":-1},{"m":7.75,"v":-12},{"m":7.1,"v":8},{"m":7.6,"v":-7},
      {"m":7.45,"v":1},{"m":7.8,"v":-18},{"m":7.25,"v":-2},{"m":7.7,"v":5},{"m":7.35,"v":-10},{"m":7.95,"v":2},{"m":7.5,"v":-5},{"m":7.15,"v":10},{"m":7.9,"v":-13},{"m":7.2,"v":-6},{"m":7.65,"v":4},{"m":7.4,"v":-11},

      {"m":11.65,"v":10},{"m":11.45,"v":-11},{"m":11.25,"v":-1},{"m":11.85,"v":-15},{"m":11.05,"v":22},{"m":12.05,"v":-7},{"m":10.8,"v":5},{"m":11.6,"v":-21},{"m":11.4,"v":-2},{"m":11.8,"v":-9},{"m":11.2,"v":14},{"m":11.5,"v":-26},{"m":12.2,"v":3},{"m":10.7,"v":-13},{"m":11.7,"v":0},{"m":11.1,"v":27},{"m":11.9,"v":-17},{"m":11.0,"v":-5},{"m":11.75,"v":7},{"m":11.35,"v":-32},{"m":11.95,"v":2},{"m":11.15,"v":-8},{"m":11.55,"v":11},{"m":10.9,"v":-12},
      {"m":11.65,"v":-3},{"m":11.45,"v":-20},{"m":11.25,"v":16},{"m":11.85,"v":-6},{"m":11.05,"v":5},{"m":12.05,"v":-16},{"m":10.8,"v":0},{"m":11.6,"v":-10},{"m":11.4,"v":9},{"m":11.8,"v":-24},{"m":11.2,"v":-4},{"m":11.5,"v":20},{"m":12.2,"v":-14},{"m":10.7,"v":3},{"m":11.7,"v":-7},{"m":11.1,"v":13},{"m":11.9,"v":-18},{"m":11.0,"v":-2},{"m":11.75,"v":-11},{"m":11.35,"v":6},{"m":11.95,"v":-22},{"m":11.15,"v":1},{"m":11.55,"v":-5},{"m":10.9,"v":8},
      {"m":11.65,"v":-13},{"m":11.45,"v":33},{"m":11.25,"v":-28},{"m":11.85,"v":-1},{"m":11.05,"v":-9},{"m":12.05,"v":4},{"m":10.8,"v":-15},{"m":11.6,"v":-5},{"m":11.4,"v":2},{"m":11.8,"v":-12},{"m":11.2,"v":-1},{"m":11.5,"v":-17},{"m":12.2,"v":6},{"m":10.7,"v":-8},{"m":11.7,"v":12},{"m":11.1,"v":-23},{"m":11.9,"v":-3},{"m":11.0,"v":-10},{"m":11.75,"v":8},{"m":11.35,"v":-6},{"m":11.95,"v":17},{"m":11.15,"v":-14},{"m":11.55,"v":1},{"m":10.9,"v":-19},
      {"m":11.65,"v":4},{"m":11.45,"v":-29},{"m":11.25,"v":-4},
      {"m":11.4,"v":-6},{"m":11.75,"v":0},{"m":11.2,"v":-10},{"m":11.65,"v":-3},{"m":11.3,"v":-13},{"m":11.9,"v":3},{"m":11.45,"v":-8},{"m":11.1,"v":6},{"m":11.85,"v":-16},{"m":11.15,"v":-4},{"m":11.6,"v":1},{"m":11.35,"v":-12},{"m":11.8,"v":-1},{"m":11.25,"v":-18},{"m":11.5,"v":4},{"m":11.7,"v":-5},{"m":11.05,"v":-9},{"m":11.55,"v":8},
      {"m":11.4,"v":-14},{"m":11.75,"v":-2},{"m":11.2,"v":-11},{"m":11.65,"v":2},{"m":11.3,"v":-7},{"m":11.9,"v":10},{"m":11.45,"v":-15},{"m":11.1,"v":-1},{"m":11.85,"v":-5},{"m":11.15,"v":5},{"m":11.6,"v":-17},{"m":11.35,"v":-4},{"m":11.8,"v":2},{"m":11.25,"v":-10},{"m":11.5,"v":-2},{"m":11.7,"v":-13},{"m":11.05,"v":7},{"m":11.55,"v":-8},
      {"m":11.4,"v":0},{"m":11.75,"v":-19},{"m":11.2,"v":-3},{"m":11.65,"v":4},{"m":11.3,"v":-11},{"m":11.9,"v":1},{"m":11.45,"v":-6},{"m":11.1,"v":9},{"m":11.85,"v":-14},{"m":11.15,"v":-7},{"m":11.6,"v":3},{"m":11.35,"v":-12},

      {"m":15.85,"v":-23},{"m":15.65,"v":17},{"m":15.45,"v":-12},{"m":16.05,"v":4},{"m":15.25,"v":-9},{"m":16.25,"v":-36},{"m":15.0,"v":8},{"m":15.8,"v":-4},{"m":15.6,"v":-16},{"m":16.0,"v":23},{"m":15.4,"v":-11},{"m":15.7,"v":-1},{"m":16.4,"v":-20},{"m":14.9,"v":3},{"m":15.9,"v":-6},{"m":15.3,"v":11},{"m":16.1,"v":-25},{"m":15.2,"v":-3},{"m":15.95,"v":-14},{"m":15.55,"v":7},{"m":16.15,"v":-9},{"m":15.35,"v":1},{"m":15.75,"v":-18},{"m":15.1,"v":15},
      {"m":15.85,"v":-5},{"m":15.65,"v":-29},{"m":15.45,"v":5},{"m":16.05,"v":-12},{"m":15.25,"v":-2},{"m":16.25,"v":-22},{"m":15.0,"v":9},{"m":15.8,"v":-7},{"m":15.6,"v":2},{"m":16.0,"v":-15},{"m":15.4,"v":13},{"m":15.7,"v":-10},{"m":16.4,"v":-4},{"m":14.9,"v":-17},{"m":15.9,"v":4},{"m":15.3,"v":-42},{"m":16.1,"v":19},{"m":15.2,"v":-8},{"m":15.95,"v":0},{"m":15.55,"v":-13},{"m":16.15,"v":6},{"m":15.35,"v":-4},{"m":15.75,"v":-11},{"m":15.1,"v":3},
      {"m":15.85,"v":-8},{"m":15.65,"v":8},{"m":15.45,"v":-15},{"m":16.05,"v":-1},{"m":15.25,"v":-21},{"m":16.25,"v":14},{"m":15.0,"v":-6},{"m":15.8,"v":1},{"m":15.6,"v":-17},{"m":16.0,"v":-3},{"m":15.4,"v":-26},{"m":15.7,"v":5},{"m":16.4,"v":-10},{"m":14.9,"v":10},{"m":15.9,"v":-13},{"m":15.3,"v":20},{"m":16.1,"v":-5},{"m":15.2,"v":-19},{"m":15.95,"v":2},{"m":15.55,"v":-8},{"m":16.15,"v":6},{"m":15.35,"v":-31},{"m":15.75,"v":-2},{"m":15.1,"v":-14},
      {"m":15.85,"v":12},{"m":15.65,"v":-7},{"m":15.45,"v":0},
      {"m":15.6,"v":-7},{"m":15.95,"v":-1},{"m":15.4,"v":-11},{"m":15.85,"v":-4},{"m":15.5,"v":-14},{"m":16.1,"v":2},{"m":15.65,"v":-9},{"m":15.3,"v":5},{"m":16.05,"v":-17},{"m":15.35,"v":-5},{"m":15.8,"v":0},{"m":15.55,"v":-13},{"m":16.0,"v":-2},{"m":15.45,"v":-19},{"m":15.7,"v":3},{"m":15.9,"v":-6},{"m":15.25,"v":-10},{"m":15.75,"v":7},
      {"m":15.6,"v":-15},{"m":15.95,"v":-3},{"m":15.4,"v":-12},{"m":15.85,"v":1},{"m":15.5,"v":-8},{"m":16.1,"v":9},{"m":15.65,"v":-16},{"m":15.3,"v":-2},{"m":16.05,"v":-6},{"m":15.35,"v":4},{"m":15.8,"v":-18},{"m":15.55,"v":-5},{"m":16.0,"v":1},{"m":15.45,"v":-11},{"m":15.7,"v":-3},{"m":15.9,"v":-14},{"m":15.25,"v":6},{"m":15.75,"v":-9},
      {"m":15.6,"v":-1},{"m":15.95,"v":-20},{"m":15.4,"v":-4},{"m":15.85,"v":3},{"m":15.5,"v":-12},{"m":16.1,"v":0},{"m":15.65,"v":-7},{"m":15.3,"v":8},{"m":16.05,"v":-15},{"m":15.35,"v":-8},{"m":15.8,"v":2},{"m":15.55,"v":-13},

      {"m":19.9,"v":0},{"m":19.7,"v":-10},{"m":19.5,"v":9},{"m":20.1,"v":-14},{"m":19.3,"v":-5},{"m":20.3,"v":-22},{"m":19.05,"v":14},{"m":19.85,"v":-8},{"m":19.65,"v":3},{"m":20.05,"v":-18},{"m":19.45,"v":-2},{"m":19.75,"v":-12},{"m":20.45,"v":7},{"m":18.95,"v":-26},{"m":19.95,"v":-6},{"m":19.35,"v":18},{"m":20.15,"v":-16},{"m":19.25,"v":1},{"m":20.0,"v":-9},{"m":19.6,"v":11},{"m":20.2,"v":-20},{"m":19.4,"v":-4},{"m":19.8,"v":-13},{"m":19.15,"v":4},
      {"m":19.9,"v":-24},{"m":19.7,"v":-1},{"m":19.5,"v":-7},{"m":20.1,"v":6},{"m":19.3,"v":-15},{"m":20.3,"v":31},{"m":19.05,"v":-30},{"m":19.85,"v":-3},{"m":19.65,"v":-11},{"m":20.05,"v":2},{"m":19.45,"v":-17},{"m":19.75,"v":-7},{"m":20.45,"v":0},{"m":18.95,"v":-14},{"m":19.95,"v":-3},{"m":19.35,"v":-19},{"m":20.15,"v":4},{"m":19.25,"v":-10},{"m":20.0,"v":10},{"m":19.6,"v":-25},{"m":20.2,"v":-5},{"m":19.4,"v":-12},{"m":19.8,"v":6},{"m":19.15,"v":-8},
      {"m":19.9,"v":15},{"m":19.7,"v":-16},{"m":19.5,"v":-1},{"m":20.1,"v":-21},{"m":19.3,"v":2},{"m":20.3,"v":-31},{"m":19.05,"v":-6},{"m":19.85,"v":8},{"m":19.65,"v":-13},{"m":20.05,"v":-3},{"m":19.45,"v":-17},{"m":19.75,"v":20},{"m":20.45,"v":-9},{"m":18.95,"v":3},{"m":19.95,"v":-23},{"m":19.35,"v":-4},{"m":20.15,"v":-11},{"m":19.25,"v":12},{"m":20.0,"v":-28},{"m":19.6,"v":1},{"m":20.2,"v":-15},{"m":19.4,"v":-2},{"m":19.8,"v":25},{"m":19.15,"v":-19},
      {"m":19.9,"v":-7},{"m":19.7,"v":5},{"m":19.5,"v":-34},
      {"m":19.65,"v":-8},{"m":20.0,"v":-2},{"m":19.45,"v":-12},{"m":19.9,"v":-5},{"m":19.55,"v":-15},{"m":20.15,"v":1},{"m":19.7,"v":-10},{"m":19.35,"v":4},{"m":20.1,"v":-18},{"m":19.4,"v":-6},{"m":19.85,"v":-1},{"m":19.6,"v":-14},{"m":20.05,"v":-3},{"m":19.5,"v":-20},{"m":19.75,"v":2},{"m":19.95,"v":-7},{"m":19.3,"v":-11},{"m":19.8,"v":6},
      {"m":19.65,"v":-16},{"m":20.0,"v":-4},{"m":19.45,"v":-13},{"m":19.9,"v":0},{"m":19.55,"v":-9},{"m":20.15,"v":8},{"m":19.7,"v":-17},{"m":19.35,"v":-3},{"m":20.1,"v":-7},{"m":19.4,"v":3},{"m":19.85,"v":-19},{"m":19.6,"v":-6},{"m":20.05,"v":0.5},{"m":19.5,"v":-12},{"m":19.75,"v":-4},{"m":19.95,"v":-15},{"m":19.3,"v":5},{"m":19.8,"v":-10},
      {"m":19.65,"v":-2},{"m":20.0,"v":-21},{"m":19.45,"v":-5},{"m":19.9,"v":2},{"m":19.55,"v":-13},{"m":20.15,"v":-1},{"m":19.7,"v":-8},{"m":19.35,"v":7},{"m":20.1,"v":-16},{"m":19.4,"v":-9},{"m":19.85,"v":1},{"m":19.6,"v":-14},

      {"m":23.95,"v":-11},{"m":23.75,"v":-1},{"m":23.55,"v":-20},{"m":24.15,"v":13},{"m":23.35,"v":-7},{"m":24.35,"v":-31},{"m":23.1,"v":3},{"m":23.9,"v":-14},{"m":23.7,"v":-4},{"m":24.1,"v":-24},{"m":23.5,"v":7},{"m":23.8,"v":-9},{"m":24.5,"v":0},{"m":23.0,"v":-17},{"m":24.0,"v":11},{"m":23.4,"v":-12},{"m":24.2,"v":-6},{"m":23.3,"v":-19},{"m":24.05,"v":2},{"m":23.65,"v":-44},{"m":24.25,"v":17},{"m":23.45,"v":-10},{"m":23.85,"v":-2},{"m":23.2,"v":-15},
      {"m":23.95,"v":4},{"m":23.75,"v":-6},{"m":23.55,"v":-13},{"m":24.15,"v":1},{"m":23.35,"v":-10},{"m":24.35,"v":6},{"m":23.1,"v":-17},{"m":23.9,"v":-3},{"m":23.7,"v":-23},{"m":24.1,"v":12},{"m":23.5,"v":-8},{"m":23.8,"v":-1},{"m":24.5,"v":-19},{"m":23.0,"v":-5},{"m":24.0,"v":-28},{"m":23.4,"v":3},{"m":24.2,"v":-12},{"m":23.3,"v":8},{"m":24.05,"v":-15},{"m":23.65,"v":18},{"m":24.25,"v":-7},{"m":23.45,"v":-21},{"m":23.85,"v":0},{"m":23.2,"v":-10},
      {"m":23.95,"v":4},{"m":23.75,"v":-33},{"m":23.55,"v":-4},{"m":24.15,"v":-16},{"m":23.35,"v":10},{"m":24.35,"v":-9},{"m":23.1,"v":-2},{"m":23.9,"v":-25},{"m":23.7,"v":15},{"m":24.1,"v":-14},{"m":23.5,"v":2},{"m":23.8,"v":-11},{"m":24.5,"v":-38},{"m":23.0,"v":6},{"m":24.0,"v":-6},{"m":23.4,"v":-18},{"m":24.2,"v":21},{"m":23.3,"v":-13},{"m":24.05,"v":-3},{"m":23.65,"v":-22},{"m":24.25,"v":1},{"m":23.45,"v":-8},{"m":23.85,"v":9},{"m":23.2,"v":-27},
      {"m":23.95,"v":-5},{"m":23.75,"v":-16},{"m":23.55,"v":5},
      {"m":23.7,"v":-9},{"m":24.05,"v":-3},{"m":23.5,"v":-13},{"m":23.95,"v":-6},{"m":23.6,"v":-16},{"m":24.2,"v":0},{"m":23.75,"v":-11},{"m":23.4,"v":3},{"m":24.15,"v":-19},{"m":23.45,"v":-7},{"m":23.9,"v":-2},{"m":23.65,"v":-15},{"m":24.1,"v":-4},{"m":23.55,"v":-21},{"m":23.8,"v":1},{"m":24.0,"v":-8},{"m":23.35,"v":-12},{"m":23.85,"v":5},
      {"m":23.7,"v":-17},{"m":24.05,"v":-5},{"m":23.5,"v":-14},{"m":23.95,"v":-1},{"m":23.6,"v":-10},{"m":24.2,"v":7},{"m":23.75,"v":-18},{"m":23.4,"v":-4},{"m":24.15,"v":-8},{"m":23.45,"v":2},{"m":23.9,"v":-20},{"m":23.65,"v":-7},{"m":24.1,"v":-1.5},{"m":23.55,"v":-13},{"m":23.8,"v":-5},{"m":24.0,"v":-16},{"m":23.35,"v":4},{"m":23.85,"v":-11},
      {"m":23.7,"v":-3},{"m":24.05,"v":-22},{"m":23.5,"v":-6},{"m":23.95,"v":1},{"m":23.6,"v":-14},{"m":24.2,"v":-2},{"m":23.75,"v":-9},{"m":23.4,"v":6},{"m":24.15,"v":-17},{"m":23.45,"v":-10},{"m":23.9,"v":0},{"m":23.65,"v":-15},

      {"m":27.9,"v":-22},{"m":27.7,"v":-6},{"m":27.5,"v":-15},{"m":28.1,"v":2},{"m":27.3,"v":-26},{"m":28.3,"v":-3},{"m":27.05,"v":-9},{"m":27.85,"v":4},{"m":27.65,"v":-17},{"m":28.05,"v":29},{"m":27.45,"v":-32},{"m":27.75,"v":-5},{"m":28.45,"v":-13},{"m":26.95,"v":0},{"m":27.95,"v":-19},{"m":27.35,"v":-9},{"m":28.15,"v":-2},{"m":27.25,"v":-16},{"m":28.0,"v":-5},{"m":27.6,"v":-21},{"m":28.2,"v":2},{"m":27.4,"v":-12},{"m":27.8,"v":8},{"m":27.15,"v":-27},
      {"m":27.9,"v":-7},{"m":27.7,"v":-14},{"m":27.5,"v":4},{"m":28.1,"v":-10},{"m":27.3,"v":13},{"m":28.3,"v":-18},{"m":27.05,"v":-3},{"m":27.85,"v":-23},{"m":27.65,"v":0},{"m":28.05,"v":-33},{"m":27.45,"v":-8},{"m":27.75,"v":6},{"m":28.45,"v":-15},{"m":26.95,"v":-5},{"m":27.95,"v":-19},{"m":27.35,"v":18},{"m":28.15,"v":-11},{"m":27.25,"v":1},{"m":28.0,"v":-25},{"m":27.6,"v":-6},{"m":28.2,"v":-13},{"m":27.4,"v":10},{"m":27.8,"v":-30},{"m":27.15,"v":-1},
      {"m":27.9,"v":-17},{"m":27.7,"v":-4},{"m":27.5,"v":23},{"m":28.1,"v":-21},{"m":27.3,"v":-9},{"m":28.3,"v":3},{"m":27.05,"v":-36},{"m":27.85,"v":-2},{"m":27.65,"v":-12},{"m":28.05,"v":7},{"m":27.45,"v":-16},{"m":27.75,"v":-7},{"m":28.45,"v":-24},{"m":26.95,"v":12},{"m":27.95,"v":-10},{"m":27.35,"v":1},{"m":28.15,"v":-20},{"m":27.25,"v":-4},{"m":28.0,"v":-14},{"m":27.6,"v":5},{"m":28.2,"v":-28},{"m":27.4,"v":-8},{"m":27.8,"v":16},{"m":27.15,"v":-18},
      {"m":27.9,"v":-1},{"m":27.7,"v":-11},{"m":27.5,"v":9},
      {"m":27.65,"v":-10},{"m":28.0,"v":-4},{"m":27.45,"v":-14},{"m":27.9,"v":-7},{"m":27.55,"v":-17},{"m":28.15,"v":-1},{"m":27.7,"v":-12},{"m":27.35,"v":2},{"m":28.1,"v":-20},{"m":27.4,"v":-8},{"m":27.85,"v":-3},{"m":27.6,"v":-16},{"m":28.05,"v":-5},{"m":27.5,"v":-22},{"m":27.75,"v":0},{"m":27.95,"v":-9},{"m":27.3,"v":-13},{"m":27.8,"v":4},
      {"m":27.65,"v":-18},{"m":28.0,"v":-6},{"m":27.45,"v":-15},{"m":27.9,"v":-2},{"m":27.55,"v":-11},{"m":28.15,"v":6},{"m":27.7,"v":-19},{"m":27.35,"v":-5},{"m":28.1,"v":-9},{"m":27.4,"v":1},{"m":27.85,"v":-21},{"m":27.6,"v":-8},{"m":28.05,"v":-2.5},{"m":27.5,"v":-14},{"m":27.75,"v":-6},{"m":27.95,"v":-17},{"m":27.3,"v":3},{"m":27.8,"v":-12},
      {"m":27.65,"v":-4},{"m":28.0,"v":-23},{"m":27.45,"v":-7},{"m":27.9,"v":0},{"m":27.55,"v":-15},{"m":28.15,"v":-3},{"m":27.7,"v":-10},{"m":27.35,"v":5},{"m":28.1,"v":-18},{"m":27.4,"v":-11},{"m":27.85,"v":-1},{"m":27.6,"v":-16},

      {"m":31.9,"v":-19},{"m":31.7,"v":-5},{"m":31.5,"v":-25},{"m":32.1,"v":10},{"m":31.3,"v":-10},{"m":32.3,"v":-3},{"m":31.05,"v":-21},{"m":31.85,"v":-7},{"m":31.65,"v":-30},{"m":32.05,"v":1},{"m":31.45,"v":-14},{"m":31.75,"v":6},{"m":32.45,"v":-17},{"m":30.95,"v":16},{"m":31.95,"v":-9},{"m":31.35,"v":-23},{"m":32.15,"v":-2},{"m":31.25,"v":-12},{"m":32.0,"v":2},{"m":31.6,"v":-35},{"m":32.2,"v":-6},{"m":31.4,"v":-18},{"m":31.8,"v":8},{"m":31.15,"v":-11},
      {"m":31.9,"v":-4},{"m":31.7,"v":-27},{"m":31.5,"v":13},{"m":32.1,"v":-16},{"m":31.3,"v":0},{"m":32.3,"v":-13},{"m":31.05,"v":-40},{"m":31.85,"v":4},{"m":31.65,"v":-8},{"m":32.05,"v":-20},{"m":31.45,"v":19},{"m":31.75,"v":-15},{"m":32.45,"v":-5},{"m":30.95,"v":-24},{"m":31.95,"v":-1},{"m":31.35,"v":-10},{"m":32.15,"v":7},{"m":31.25,"v":-29},{"m":32.0,"v":-7},{"m":31.6,"v":-18},{"m":32.2,"v":3},{"m":31.4,"v":-13},{"m":31.8,"v":-3},{"m":31.15,"v":-22},
      {"m":31.9,"v":11},{"m":31.7,"v":-9},{"m":31.5,"v":-33},{"m":32.1,"v":1},{"m":31.3,"v":-16},{"m":32.3,"v":-6},{"m":31.05,"v":-26},{"m":31.85,"v":5},{"m":31.65,"v":-11},{"m":32.05,"v":-2},{"m":31.45,"v":-19},{"m":31.75,"v":9},{"m":32.45,"v":-14},{"m":30.95,"v":-8},{"m":31.95,"v":-21},{"m":31.35,"v":0},{"m":32.15,"v":-46},{"m":31.25,"v":15},{"m":32.0,"v":-12},{"m":31.6,"v":-4},{"m":32.2,"v":-17},{"m":31.4,"v":2},{"m":31.8,"v":-8},{"m":31.15,"v":-15},
      {"m":31.9,"v":-1},{"m":31.7,"v":-12},{"m":31.5,"v":4},
      {"m":31.65,"v":-11},{"m":32.0,"v":-5},{"m":31.45,"v":-15},{"m":31.9,"v":-8},{"m":31.55,"v":-18},{"m":32.15,"v":-2},{"m":31.7,"v":-13},{"m":31.35,"v":1},{"m":32.1,"v":-21},{"m":31.4,"v":-9},{"m":31.85,"v":-4},{"m":31.6,"v":-17},{"m":32.05,"v":-6},{"m":31.5,"v":-23},{"m":31.75,"v":-1},{"m":31.95,"v":-10},{"m":31.3,"v":-14},{"m":31.8,"v":3},
      {"m":31.65,"v":-19},{"m":32.0,"v":-7},{"m":31.45,"v":-16},{"m":31.9,"v":-3},{"m":31.55,"v":-12},{"m":32.15,"v":5},{"m":31.7,"v":-20},{"m":31.35,"v":-6},{"m":32.1,"v":-10},{"m":31.4,"v":0},{"m":31.85,"v":-22},{"m":31.6,"v":-9},{"m":32.05,"v":-3.5},{"m":31.5,"v":-15},{"m":31.75,"v":-7},{"m":31.95,"v":-18},{"m":31.3,"v":2},{"m":31.8,"v":-13},
      {"m":31.65,"v":-5},{"m":32.0,"v":-24},{"m":31.45,"v":-8},{"m":31.9,"v":-1},{"m":31.55,"v":-16},{"m":32.15,"v":-4},{"m":31.7,"v":-11},{"m":31.35,"v":4},{"m":32.1,"v":-19},{"m":31.4,"v":-12},{"m":31.85,"v":-2},{"m":31.6,"v":-17},

      {"m":36.58,"v":-4},{"m":36.3,"v":-24},{"m":36.02,"v":-1},{"m":36.86,"v":-34},{"m":35.74,"v":-9},{"m":37.14,"v":5},{"m":35.39,"v":-16},{"m":36.51,"v":-6},{"m":36.23,"v":-20},{"m":36.79,"v":17},{"m":35.95,"v":-12},{"m":36.37,"v":0},{"m":37.35,"v":-26},{"m":35.25,"v":-7},{"m":36.65,"v":-14},{"m":35.81,"v":9},{"m":36.93,"v":-31},{"m":35.67,"v":-2},{"m":36.72,"v":-18},{"m":36.16,"v":-5},{"m":37.0,"v":22},{"m":35.88,"v":-22},{"m":36.44,"v":-10},{"m":35.53,"v":2},
      {"m":36.58,"v":-37},{"m":36.3,"v":-3},{"m":36.02,"v":-13},{"m":36.86,"v":6},{"m":35.74,"v":-17},{"m":37.14,"v":-8},{"m":35.39,"v":-25},{"m":36.51,"v":11},{"m":36.23,"v":-11},{"m":36.79,"v":0},{"m":35.95,"v":-21},{"m":36.37,"v":-5},{"m":37.35,"v":-15},{"m":35.25,"v":4},{"m":36.65,"v":-29},{"m":35.81,"v":-9},{"m":36.93,"v":15},{"m":35.67,"v":-19},{"m":36.72,"v":-2},{"m":36.16,"v":-12},{"m":37.0,"v":8},{"m":35.88,"v":-23},{"m":36.44,"v":-7},{"m":35.53,"v":-16},
      {"m":36.58,"v":1},{"m":36.3,"v":-27},{"m":36.02,"v":-4},{"m":36.86,"v":-10},{"m":35.74,"v":3},{"m":37.14,"v":-18},{"m":35.39,"v":28},{"m":36.51,"v":-33},{"m":36.23,"v":-6},{"m":36.79,"v":-14},{"m":35.95,"v":-1},{"m":36.37,"v":-20},{"m":37.35,"v":-10},{"m":35.25,"v":-3},{"m":36.65,"v":-17},{"m":35.81,"v":-6},{"m":36.93,"v":-22},{"m":35.67,"v":1},{"m":36.72,"v":-13},{"m":36.16,"v":7},{"m":37.0,"v":-28},{"m":35.88,"v":-8},{"m":36.44,"v":-15},{"m":35.53,"v":3},
      {"m":36.58,"v":-11},{"m":36.3,"v":12},{"m":36.02,"v":-19},
      {"m":36.4,"v":6},{"m":35.75,"v":-30},{"m":36.5,"v":-8},{"m":36.3,"v":-19},{"m":36.1,"v":2},{"m":36.7,"v":-14},{"m":35.9,"v":-4},{"m":36.9,"v":-23},{"m":35.65,"v":10},{"m":36.45,"v":-10},{"m":36.25,"v":-34},{"m":36.65,"v":0},{"m":36.05,"v":-17},{"m":36.35,"v":-7},{"m":37.05,"v":-27},{"m":35.55,"v":4},{"m":36.55,"v":-12},{"m":35.95,"v":-3},{"m":36.75,"v":-20},{"m":35.85,"v":8},{"m":36.6,"v":-15},{"m":36.2,"v":-9},{"m":36.8,"v":-22},{"m":36.0,"v":-1},
      {"m":36.4,"v":-47},{"m":35.75,"v":14},{"m":36.5,"v":-13},{"m":36.3,"v":-5},{"m":36.1,"v":-18},{"m":36.7,"v":1},{"m":35.9,"v":-9},{"m":36.9,"v":-16},{"m":35.65,"v":-2},{"m":36.45,"v":-13},{"m":36.25,"v":3},{"m":36.65,"v":-20},{"m":36.05,"v":-6},{"m":36.35,"v":-26},{"m":37.05,"v":9},{"m":35.55,"v":-11},{"m":36.55,"v":-4},{"m":35.95,"v":-22},{"m":36.75,"v":-8},{"m":35.85,"v":-31},{"m":36.6,"v":0},{"m":36.2,"v":-15},{"m":36.8,"v":5},{"m":36.0,"v":-18},
      {"m":36.4,"v":15},{"m":35.75,"v":-10},{"m":36.5,"v":-24},{"m":36.3,"v":-3},{"m":36.1,"v":-13},{"m":36.7,"v":1},{"m":35.9,"v":-36},{"m":36.9,"v":-7},{"m":35.65,"v":-19},{"m":36.45,"v":7},{"m":36.25,"v":-12},{"m":36.65,"v":-5},{"m":36.05,"v":-28},{"m":36.35,"v":12},{"m":37.05,"v":-17},{"m":35.55,"v":-1},{"m":36.55,"v":-14},{"m":35.95,"v":-41},{"m":36.75,"v":3},{"m":35.85,"v":-9},{"m":36.6,"v":-21},{"m":36.2,"v":18},{"m":36.8,"v":-16},{"m":36.0,"v":-6},
      {"m":36.4,"v":-25},{"m":35.75,"v":-2},{"m":36.5,"v":-11},
      {"m":36.23,"v":-11},{"m":36.72,"v":-5},{"m":35.95,"v":-15},{"m":36.58,"v":-8},{"m":36.09,"v":-18},{"m":36.93,"v":-2},{"m":36.3,"v":-13},{"m":35.81,"v":1},{"m":36.86,"v":-21},{"m":35.88,"v":-9},{"m":36.51,"v":-4},{"m":36.16,"v":-17},{"m":36.79,"v":-6},{"m":36.02,"v":-23},{"m":36.37,"v":-1},{"m":36.65,"v":-10},{"m":35.74,"v":-14},{"m":36.44,"v":3},
      {"m":36.23,"v":-19},{"m":36.72,"v":-7},{"m":35.95,"v":-16},{"m":36.58,"v":-3},{"m":36.09,"v":-12},{"m":36.93,"v":5},{"m":36.3,"v":-20},{"m":35.81,"v":-6},{"m":36.86,"v":-10},{"m":35.88,"v":0},{"m":36.51,"v":-22},{"m":36.16,"v":-9},{"m":36.79,"v":-3.5},{"m":36.02,"v":-15},{"m":36.37,"v":-7},{"m":36.65,"v":-18},{"m":35.74,"v":2},{"m":36.44,"v":-13},
      {"m":36.23,"v":-5},{"m":36.72,"v":-24},{"m":35.95,"v":-8},{"m":36.58,"v":-1},{"m":36.09,"v":-16},{"m":36.93,"v":-4},{"m":36.3,"v":-11},{"m":35.81,"v":4},{"m":36.86,"v":-19},{"m":35.88,"v":-12},{"m":36.51,"v":-2},{"m":36.16,"v":-17},
      {"m":35.88,"v":-8},{"m":36.51,"v":-14},{"m":36.16,"v":-4},{"m":36.79,"v":-11},{"m":36.02,"v":-1},{"m":36.37,"v":-17},{"m":36.65,"v":-6},{"m":35.74,"v":-20},{"m":36.44,"v":2},{"m":36.23,"v":-10},{"m":36.72,"v":-15},{"m":35.95,"v":-2},{"m":36.58,"v":-13},{"m":36.09,"v":4},{"m":36.93,"v":-18},{"m":36.3,"v":-9},{"m":35.81,"v":-5},{"m":36.86,"v":-22},
      {"m":35.88,"v":0},{"m":36.51,"v":-12},{"m":36.16,"v":-3},{"m":36.79,"v":-16},{"m":36.02,"v":-7},{"m":36.37,"v":-24},{"m":36.65,"v":1},{"m":35.74,"v":-13},{"m":36.44,"v":-9},{"m":36.23,"v":-19},{"m":36.72,"v":3},{"m":35.95,"v":-10},{"m":36.58,"v":-16.5},{"m":36.09,"v":-4},{"m":36.93,"v":-12},{"m":36.3,"v":-1},{"m":35.81,"v":-21},{"m":36.86,"v":-6},
      {"m":35.88,"v":-14},{"m":36.51,"v":5},{"m":36.16,"v":-11},{"m":36.79,"v":-18},{"m":36.02,"v":-3},{"m":36.37,"v":-15},{"m":36.65,"v":-8},{"m":35.74,"v":-23},{"m":36.44,"v":0},{"m":36.23,"v":-7},{"m":36.72,"v":-17},{"m":35.95,"v":-2},

      {"m":0.28,"v":-1.3},{"m":2.15,"v":-1.5},{"m":2.4,"v":-1.5},{"m":2.4,"v":-6.5},{"m":2.58,"v":-16.8},
      {"m":9.5,"v":-6.3},{"m":9.85,"v":-7.2},{"m":9.4,"v":-0.3},{"m":10.0,"v":0.6},{"m":9.15,"v":-13.9},{"m":6.4,"v":10.7},{"m":6.6,"v":8.5},{"m":4.7,"v":-7.6},{"m":4.5,"v":-8.8},
      {"m":13.0,"v":-6.4},{"m":13.0,"v":-8.2},
      {"m":17.1,"v":8},{"m":18.3,"v":7},{"m":18.4,"v":-0.3},{"m":17.3,"v":-18.1},{"m":18.0,"v":-22.9},{"m":18.4,"v":-21.5},{"m":16.8,"v":-13},
      {"m":21.0,"v":0.6},{"m":21.9,"v":-15.2},{"m":22.3,"v":11.6},{"m":21.5,"v":-3.8},
      {"m":25.0,"v":4},{"m":25.0,"v":2.1},{"m":25.2,"v":-1.9},{"m":26.0,"v":-12.8},{"m":26.6,"v":-20.3},{"m":26.85,"v":-8.2},{"m":26.85,"v":-11.9},
      {"m":29.3,"v":0},{"m":29.75,"v":-10.8},{"m":29.9,"v":-3.4},{"m":29.2,"v":-21.9},{"m":30.5,"v":0.8},{"m":30.6,"v":7.4},
      {"m":33.0,"v":-26},{"m":33.1,"v":-3.4},{"m":32.75,"v":2.9},{"m":34.2,"v":-15.3},{"m":34.55,"v":-20.2},{"m":34.85,"v":-20.4},{"m":34.8,"v":3.3},{"m":34.6,"v":8},{"m":34.7,"v":-6},
      {"m":39.5,"v":5.9},{"m":41.3,"v":-2.4},{"m":39.8,"v":-7.4},{"m":40.0,"v":-11.2},{"m":39.4,"v":-13.4},{"m":39.25,"v":-9.3},{"m":39.1,"v":-10.3},{"m":38.55,"v":-13},{"m":38.1,"v":-26.8},{"m":38.3,"v":12.9},
      {"m":38.55,"v":3.3},{"m":39.25,"v":-2.8},
      {"m":11.85,"v":53},{"m":19.75,"v":39.2},{"m":19.65,"v":42},{"m":3.3,"v":39.7},{"m":3.1,"v":36.7},{"m":6.65,"v":37.6},{"m":7.6,"v":35.7},{"m":11.0,"v":37.2},{"m":11.8,"v":35.7},{"m":10.9,"v":34.3},{"m":11.6,"v":34.1},
      {"m":15.3,"v":35.8},{"m":23.7,"v":50},{"m":23.6,"v":38},{"m":23.85,"v":36.9},{"m":27.7,"v":36},{"m":31.5,"v":37.8},{"m":35.75,"v":45.5},{"m":36.35,"v":45},{"m":36.4,"v":43.5},{"m":36.0,"v":40.3},{"m":36.1,"v":42},
      {"m":3.45,"v":-31.8},{"m":3.6,"v":-32.4},{"m":7.05,"v":-32.4},{"m":7.2,"v":-32.3},{"m":7.45,"v":-29.7},{"m":8.2,"v":-35.1},{"m":7.3,"v":-37.9},{"m":7.5,"v":-43.4},{"m":7.35,"v":-45.9},{"m":11.05,"v":-35.7},
      {"m":11.3,"v":-36.3},{"m":11.8,"v":-48.9},{"m":11.2,"v":-47},{"m":15.7,"v":-41.2},{"m":15.75,"v":-43.4},{"m":15.7,"v":-46.3},{"m":14.8,"v":-30.6},{"m":15.6,"v":-34.9},{"m":19.6,"v":-34.7},{"m":19.6,"v":-40.3},{"m":19.75,"v":-48},
      {"m":19.9,"v":-48.2},{"m":20.3,"v":-31.9},{"m":21.0,"v":-29.6},{"m":18.0,"v":-31.5},{"m":19.4,"v":-47},
      {"m":36.0,"v":-39.6},{"m":36.2,"v":-43.4},{"m":36.85,"v":-42.3},{"m":36.45,"v":-50},{"m":36.2,"v":-50.9},{"m":36.95,"v":-50},{"m":35.3,"v":-42.6},{"m":35.7,"v":-43.4},{"m":35.5,"v":-45.5},{"m":35.55,"v":-47.6},
      {"m":36.0,"v":-47.6},{"m":35.45,"v":-36.2},{"m":37.4,"v":-37.5},{"m":37.8,"v":-37.6},{"m":32.2,"v":-50.8},{"m":32.25,"v":-52.8},{"m":31.8,"v":-51.3},{"m":31.6,"v":-47.7},{"m":32.45,"v":-47.7},{"m":31.3,"v":-47.2},
      {"m":32.0,"v":-45.9},{"m":31.3,"v":-40.2},{"m":31.6,"v":-42.6},{"m":28.15,"v":-48.3},{"m":27.8,"v":-38.9},{"m":27.3,"v":-37.1},{"m":23.35,"v":-42.1},{"m":23.6,"v":-43.4},{"m":23.6,"v":-49},{"m":22.65,"v":-37.6},
      {"m":30.6,"v":-29.7},{"m":35.0,"v":-33.8},{"m":23.85,"v":-39},{"m":31.7,"v":-50}
    ],
    "fits": [
      {"arm": "Tolvaptan", "m": 0, "v": 0},
      {"arm": "Tolvaptan", "m": 42.5, "v": -9.21},
      {"arm": "Placebo", "m": 0, "v": 0},
      {"arm": "Placebo", "m": 42.5, "v": -13.46}
    ],
    "notesLeft": [
      {"m": 0.51, "v": -40.9, "t": "Tolvaptan"},
      {"m": 5.58, "v": -40.9, "t": "-2.6 mg/ mL⁻¹ / year"},
      {"m": 0.51, "v": -46.5, "t": "Placebo"},
      {"m": 5.58, "v": -46.5, "t": "-3.8 mg/ mL⁻¹ / year"},
      {"m": 0.51, "v": -53.3, "t": "p<0.0001"}
    ],
    "notesCenter": [
      {"m": 24.14, "v": -41.7, "t": "Consistent"},
      {"m": 24.2, "v": -47.5, "t": "> 30% Slowing"},
      {"m": 24.14, "v": -53.1, "t": "Over 3 Years"}
    ]
  },
  "encoding": {
    "x": {
      "field": "m", "type": "quantitative",
      "scale": {"domain": [0, 42.5], "nice": false, "zero": false},
      "axis": {
        "title": "Month",
        "values": [0, 4, 8, 12, 16, 20, 24, 28, 32, 36, 40],
        "labelExpr": "datum.value === 0 ? ['Week', '3/EOT'] : (datum.value === 40 ? '' : '' + datum.value)",
        "labelFontSize": 41, "labelPadding": 22, "labelLineHeight": 49,
        "labelFlush": false, "labelOverlap": false,
        "tickSize": 15, "tickWidth": 4, "domainWidth": 5,
        "titleFontSize": 46, "titleX": 849, "titleY": 124,
        "titleBaseline": "alphabetic", "titleAlign": "center"
      }
    },
    "y": {
      "field": "v", "type": "quantitative",
      "scale": {"domain": [-55.7, 55.2], "nice": false, "zero": false},
      "axis": {
        "title": ["Change in Kidney Function", "(Reciprocal Serum Creatinine [mg/mL]⁻¹)"],
        "values": [-50, -40, -30, -20, -10, 0, 10, 20, 30, 40, 50],
        "labelExpr": "datum.value < 0 ? '-' + abs(datum.value) : '' + datum.value",
        "labelFontSize": 41, "labelPadding": 21,
        "tickSize": 15, "tickWidth": 4, "domainWidth": 4.5,
        "titleFontSize": 48, "titleAngle": 270, "titleX": -220, "titleY": 430,
        "titleBaseline": "alphabetic", "titleAlign": "center", "titleLineHeight": 77
      }
    }
  },
  "layer": [
    {
      "data": {"values": [{}]},
      "mark": {"type": "rect", "color": "#1F8ACB", "clip": false},
      "encoding": {
        "x": {
          "datum": -7.45, "type": "quantitative",
          "scale": {"domain": [0, 42.5], "nice": false, "zero": false},
          "axis": {
            "title": "Month",
            "values": [0, 4, 8, 12, 16, 20, 24, 28, 32, 36, 40],
            "labelExpr": "datum.value === 0 ? ['Week', '3/EOT'] : (datum.value === 40 ? '' : '' + datum.value)",
            "labelFontSize": 41, "labelPadding": 22, "labelLineHeight": 49,
            "labelFlush": false, "labelOverlap": false,
            "tickSize": 15, "tickWidth": 4, "domainWidth": 5,
            "titleFontSize": 46, "titleX": 849, "titleY": 124,
            "titleBaseline": "alphabetic", "titleAlign": "center"
          }
        },
        "x2": {"datum": 42.85},
        "y": {
          "datum": 60.45, "type": "quantitative",
          "scale": {"domain": [-55.7, 55.2], "nice": false, "zero": false},
          "axis": {
            "title": ["Change in Kidney Function", "(Reciprocal Serum Creatinine [mg/mL]⁻¹)"],
            "values": [-50, -40, -30, -20, -10, 0, 10, 20, 30, 40, 50],
            "labelExpr": "datum.value < 0 ? '-' + abs(datum.value) : '' + datum.value",
            "labelFontSize": 41, "labelPadding": 21,
            "tickSize": 15, "tickWidth": 4, "domainWidth": 4.5,
            "titleFontSize": 48, "titleAngle": 270, "titleX": -220, "titleY": 430,
            "titleBaseline": "alphabetic", "titleAlign": "center", "titleLineHeight": 77
          }
        },
        "y2": {"datum": 59.8}
      }
    },
    {
      "data": {"name": "tolvaptan"},
      "mark": {"type": "tick", "orient": "horizontal", "color": "#0000FF", "size": 10, "thickness": 2.5, "opacity": 1}
    },
    {
      "data": {"name": "placebo"},
      "mark": {"type": "tick", "orient": "vertical", "color": "#943634", "size": 10, "thickness": 3, "opacity": 1}
    },
    {
      "data": {"name": "fits"},
      "transform": [{"filter": "datum.arm === 'Tolvaptan'"}],
      "mark": {"type": "line", "strokeWidth": 9, "strokeCap": "round"},
      "encoding": {
        "color": {
          "field": "arm", "type": "nominal",
          "scale": {"domain": ["Placebo", "Tolvaptan"], "range": ["#943634", "#0000FF"]},
          "legend": {
            "title": null, "orient": "none", "legendX": 46, "legendY": 15, "padding": 0,
            "symbolType": "stroke", "symbolSize": 3136, "symbolStrokeWidth": 9,
            "labelFont": "Liberation Sans", "labelFontWeight": "bold", "labelFontSize": 37,
            "labelColor": "#000", "labelOffset": 11, "labelLimit": 500,
            "clipHeight": 40, "rowPadding": 3,
            "labelExpr": "datum.label === 'Placebo' ? 'Placebo\u00a0\u00a0\u00a0\u00a0\u00a0N=464' : 'Tolvaptan\u00a0\u00a0N=842'"
          }
        }
      }
    },
    {
      "data": {"name": "fits"},
      "transform": [{"filter": "datum.arm === 'Placebo'"}],
      "mark": {"type": "line", "strokeWidth": 9, "strokeCap": "round"},
      "encoding": {
        "color": {
          "field": "arm", "type": "nominal",
          "scale": {"domain": ["Placebo", "Tolvaptan"], "range": ["#943634", "#0000FF"]},
          "legend": {
            "title": null, "orient": "none", "legendX": 46, "legendY": 15, "padding": 0,
            "symbolType": "stroke", "symbolSize": 3136, "symbolStrokeWidth": 9,
            "labelFont": "Liberation Sans", "labelFontWeight": "bold", "labelFontSize": 37,
            "labelColor": "#000", "labelOffset": 11, "labelLimit": 500,
            "clipHeight": 40, "rowPadding": 3,
            "labelExpr": "datum.label === 'Placebo' ? 'Placebo\u00a0\u00a0\u00a0\u00a0\u00a0N=464' : 'Tolvaptan\u00a0\u00a0N=842'"
          }
        }
      }
    },
    {
      "data": {"name": "notesLeft"},
      "mark": {"type": "text", "align": "left", "baseline": "alphabetic", "font": "Liberation Sans", "fontWeight": "bold", "fontSize": 36, "color": "#000"},
      "encoding": {"text": {"field": "t"}}
    },
    {
      "data": {"name": "notesCenter"},
      "mark": {"type": "text", "align": "center", "baseline": "alphabetic", "font": "Liberation Sans", "fontWeight": "bold", "fontSize": 36, "color": "#000"},
      "encoding": {"text": {"field": "t"}}
    }
  ]
}
